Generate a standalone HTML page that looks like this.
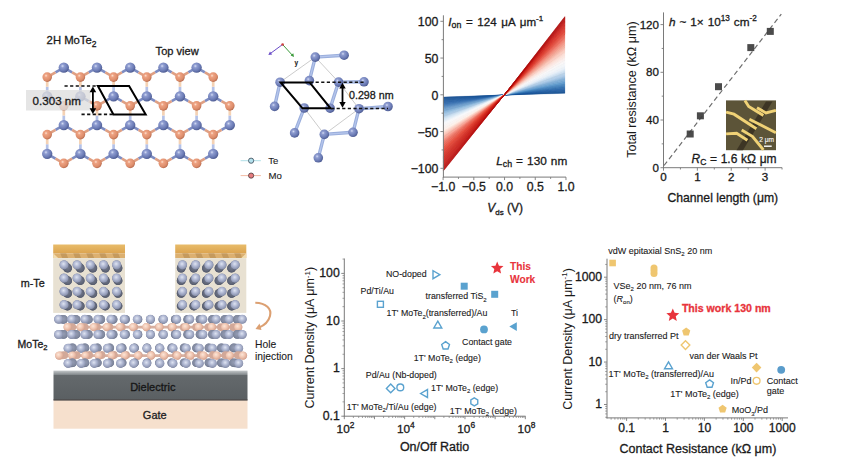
<!DOCTYPE html>
<html><head><meta charset="utf-8"><style>
html,body{margin:0;padding:0;background:#fff;width:848px;height:470px;overflow:hidden}
svg{display:block}
text{font-family:"Liberation Sans",sans-serif}
</style></head><body>
<svg width="848" height="470" viewBox="0 0 848 470">
<defs>
<radialGradient id="gB" cx="0.38" cy="0.35" r="0.66"><stop offset="0" stop-color="#d4dcf4"/><stop offset="0.25" stop-color="#8e9cd0"/><stop offset="0.72" stop-color="#6a7ab4"/><stop offset="1" stop-color="#4e5c92"/></radialGradient>
<radialGradient id="gO" cx="0.38" cy="0.35" r="0.66"><stop offset="0" stop-color="#fde2d0"/><stop offset="0.25" stop-color="#eea282"/><stop offset="0.75" stop-color="#dc8c6a"/><stop offset="1" stop-color="#b86c50"/></radialGradient>
<radialGradient id="gTe" cx="0.45" cy="0.4" r="0.62"><stop offset="0" stop-color="#dfe4f2"/><stop offset="0.5" stop-color="#adb5d0"/><stop offset="1" stop-color="#838ba6"/></radialGradient>
<radialGradient id="gTeD" cx="0.5" cy="0.45" r="0.6"><stop offset="0" stop-color="#767c90"/><stop offset="0.7" stop-color="#5e6476"/><stop offset="1" stop-color="#4a5062"/></radialGradient>
<radialGradient id="gTeB" cx="0.5" cy="0.45" r="0.6"><stop offset="0" stop-color="#949cb4"/><stop offset="0.7" stop-color="#80889e"/><stop offset="1" stop-color="#646c82"/></radialGradient>
<radialGradient id="gMo" cx="0.4" cy="0.38" r="0.65"><stop offset="0" stop-color="#fce6d8"/><stop offset="0.5" stop-color="#f0c6b2"/><stop offset="1" stop-color="#d4a08c"/></radialGradient>
<linearGradient id="gGold" x1="0" y1="0" x2="0" y2="1"><stop offset="0" stop-color="#e8bc6a"/><stop offset="1" stop-color="#dca450"/></linearGradient>
<linearGradient id="gGold2" x1="0" y1="0" x2="0" y2="1"><stop offset="0" stop-color="#d8b070"/><stop offset="1" stop-color="#f0dcb4"/></linearGradient>
<linearGradient id="gDiel" x1="0" y1="0" x2="0" y2="1"><stop offset="0" stop-color="#64696c"/><stop offset="1" stop-color="#5a5f62"/></linearGradient>
<linearGradient id="gDielTop" x1="0" y1="0" x2="0" y2="1"><stop offset="0" stop-color="#c4c8ca"/><stop offset="1" stop-color="#7e8487"/></linearGradient>
</defs>
<rect width="848" height="470" fill="#ffffff"/>
<g>
<line x1="63.80" y1="67.60" x2="55.50" y2="72.35" stroke="#7d8cc2" stroke-width="2.7"/>
<line x1="55.50" y1="72.35" x2="47.20" y2="77.10" stroke="#dfa084" stroke-width="2.7"/>
<line x1="63.80" y1="67.60" x2="72.10" y2="72.35" stroke="#7d8cc2" stroke-width="2.7"/>
<line x1="72.10" y1="72.35" x2="80.40" y2="77.10" stroke="#dfa084" stroke-width="2.7"/>
<line x1="97.00" y1="67.60" x2="88.70" y2="72.35" stroke="#7d8cc2" stroke-width="2.7"/>
<line x1="88.70" y1="72.35" x2="80.40" y2="77.10" stroke="#dfa084" stroke-width="2.7"/>
<line x1="97.00" y1="67.60" x2="105.30" y2="72.35" stroke="#7d8cc2" stroke-width="2.7"/>
<line x1="105.30" y1="72.35" x2="113.60" y2="77.10" stroke="#dfa084" stroke-width="2.7"/>
<line x1="130.20" y1="67.60" x2="121.90" y2="72.35" stroke="#7d8cc2" stroke-width="2.7"/>
<line x1="121.90" y1="72.35" x2="113.60" y2="77.10" stroke="#dfa084" stroke-width="2.7"/>
<line x1="130.20" y1="67.60" x2="138.50" y2="72.35" stroke="#7d8cc2" stroke-width="2.7"/>
<line x1="138.50" y1="72.35" x2="146.80" y2="77.10" stroke="#dfa084" stroke-width="2.7"/>
<line x1="163.40" y1="67.60" x2="155.10" y2="72.35" stroke="#7d8cc2" stroke-width="2.7"/>
<line x1="155.10" y1="72.35" x2="146.80" y2="77.10" stroke="#dfa084" stroke-width="2.7"/>
<line x1="163.40" y1="67.60" x2="171.70" y2="72.35" stroke="#7d8cc2" stroke-width="2.7"/>
<line x1="171.70" y1="72.35" x2="180.00" y2="77.10" stroke="#dfa084" stroke-width="2.7"/>
<line x1="196.60" y1="67.60" x2="188.30" y2="72.35" stroke="#7d8cc2" stroke-width="2.7"/>
<line x1="188.30" y1="72.35" x2="180.00" y2="77.10" stroke="#dfa084" stroke-width="2.7"/>
<line x1="196.60" y1="67.60" x2="204.90" y2="72.35" stroke="#7d8cc2" stroke-width="2.7"/>
<line x1="204.90" y1="72.35" x2="213.20" y2="77.10" stroke="#dfa084" stroke-width="2.7"/>
<line x1="47.20" y1="96.35" x2="47.20" y2="86.72" stroke="#b4c2e8" stroke-width="2.7"/>
<line x1="47.20" y1="86.72" x2="47.20" y2="77.10" stroke="#f4d2b4" stroke-width="2.7"/>
<line x1="80.40" y1="96.35" x2="80.40" y2="86.72" stroke="#b4c2e8" stroke-width="2.7"/>
<line x1="80.40" y1="86.72" x2="80.40" y2="77.10" stroke="#f4d2b4" stroke-width="2.7"/>
<line x1="113.60" y1="96.35" x2="113.60" y2="86.72" stroke="#b4c2e8" stroke-width="2.7"/>
<line x1="113.60" y1="86.72" x2="113.60" y2="77.10" stroke="#f4d2b4" stroke-width="2.7"/>
<line x1="146.80" y1="96.35" x2="146.80" y2="86.72" stroke="#b4c2e8" stroke-width="2.7"/>
<line x1="146.80" y1="86.72" x2="146.80" y2="77.10" stroke="#f4d2b4" stroke-width="2.7"/>
<line x1="180.00" y1="96.35" x2="180.00" y2="86.72" stroke="#b4c2e8" stroke-width="2.7"/>
<line x1="180.00" y1="86.72" x2="180.00" y2="77.10" stroke="#f4d2b4" stroke-width="2.7"/>
<line x1="213.20" y1="96.35" x2="213.20" y2="86.72" stroke="#b4c2e8" stroke-width="2.7"/>
<line x1="213.20" y1="86.72" x2="213.20" y2="77.10" stroke="#f4d2b4" stroke-width="2.7"/>
<line x1="47.20" y1="96.35" x2="55.50" y2="101.10" stroke="#7d8cc2" stroke-width="2.7"/>
<line x1="55.50" y1="101.10" x2="63.80" y2="105.85" stroke="#dfa084" stroke-width="2.7"/>
<line x1="80.40" y1="96.35" x2="72.10" y2="101.10" stroke="#7d8cc2" stroke-width="2.7"/>
<line x1="72.10" y1="101.10" x2="63.80" y2="105.85" stroke="#dfa084" stroke-width="2.7"/>
<line x1="80.40" y1="96.35" x2="88.70" y2="101.10" stroke="#7d8cc2" stroke-width="2.7"/>
<line x1="88.70" y1="101.10" x2="97.00" y2="105.85" stroke="#dfa084" stroke-width="2.7"/>
<line x1="113.60" y1="96.35" x2="105.30" y2="101.10" stroke="#7d8cc2" stroke-width="2.7"/>
<line x1="105.30" y1="101.10" x2="97.00" y2="105.85" stroke="#dfa084" stroke-width="2.7"/>
<line x1="113.60" y1="96.35" x2="121.90" y2="101.10" stroke="#7d8cc2" stroke-width="2.7"/>
<line x1="121.90" y1="101.10" x2="130.20" y2="105.85" stroke="#dfa084" stroke-width="2.7"/>
<line x1="146.80" y1="96.35" x2="138.50" y2="101.10" stroke="#7d8cc2" stroke-width="2.7"/>
<line x1="138.50" y1="101.10" x2="130.20" y2="105.85" stroke="#dfa084" stroke-width="2.7"/>
<line x1="146.80" y1="96.35" x2="155.10" y2="101.10" stroke="#7d8cc2" stroke-width="2.7"/>
<line x1="155.10" y1="101.10" x2="163.40" y2="105.85" stroke="#dfa084" stroke-width="2.7"/>
<line x1="180.00" y1="96.35" x2="171.70" y2="101.10" stroke="#7d8cc2" stroke-width="2.7"/>
<line x1="171.70" y1="101.10" x2="163.40" y2="105.85" stroke="#dfa084" stroke-width="2.7"/>
<line x1="180.00" y1="96.35" x2="188.30" y2="101.10" stroke="#7d8cc2" stroke-width="2.7"/>
<line x1="188.30" y1="101.10" x2="196.60" y2="105.85" stroke="#dfa084" stroke-width="2.7"/>
<line x1="213.20" y1="96.35" x2="204.90" y2="101.10" stroke="#7d8cc2" stroke-width="2.7"/>
<line x1="204.90" y1="101.10" x2="196.60" y2="105.85" stroke="#dfa084" stroke-width="2.7"/>
<line x1="213.20" y1="96.35" x2="221.50" y2="101.10" stroke="#7d8cc2" stroke-width="2.7"/>
<line x1="221.50" y1="101.10" x2="229.80" y2="105.85" stroke="#dfa084" stroke-width="2.7"/>
<line x1="63.80" y1="125.10" x2="63.80" y2="115.47" stroke="#b4c2e8" stroke-width="2.7"/>
<line x1="63.80" y1="115.47" x2="63.80" y2="105.85" stroke="#f4d2b4" stroke-width="2.7"/>
<line x1="97.00" y1="125.10" x2="97.00" y2="115.47" stroke="#b4c2e8" stroke-width="2.7"/>
<line x1="97.00" y1="115.47" x2="97.00" y2="105.85" stroke="#f4d2b4" stroke-width="2.7"/>
<line x1="130.20" y1="125.10" x2="130.20" y2="115.47" stroke="#b4c2e8" stroke-width="2.7"/>
<line x1="130.20" y1="115.47" x2="130.20" y2="105.85" stroke="#f4d2b4" stroke-width="2.7"/>
<line x1="163.40" y1="125.10" x2="163.40" y2="115.47" stroke="#b4c2e8" stroke-width="2.7"/>
<line x1="163.40" y1="115.47" x2="163.40" y2="105.85" stroke="#f4d2b4" stroke-width="2.7"/>
<line x1="196.60" y1="125.10" x2="196.60" y2="115.47" stroke="#b4c2e8" stroke-width="2.7"/>
<line x1="196.60" y1="115.47" x2="196.60" y2="105.85" stroke="#f4d2b4" stroke-width="2.7"/>
<line x1="229.80" y1="125.10" x2="229.80" y2="115.47" stroke="#b4c2e8" stroke-width="2.7"/>
<line x1="229.80" y1="115.47" x2="229.80" y2="105.85" stroke="#f4d2b4" stroke-width="2.7"/>
<line x1="63.80" y1="125.10" x2="55.50" y2="129.85" stroke="#7d8cc2" stroke-width="2.7"/>
<line x1="55.50" y1="129.85" x2="47.20" y2="134.60" stroke="#dfa084" stroke-width="2.7"/>
<line x1="63.80" y1="125.10" x2="72.10" y2="129.85" stroke="#7d8cc2" stroke-width="2.7"/>
<line x1="72.10" y1="129.85" x2="80.40" y2="134.60" stroke="#dfa084" stroke-width="2.7"/>
<line x1="97.00" y1="125.10" x2="88.70" y2="129.85" stroke="#7d8cc2" stroke-width="2.7"/>
<line x1="88.70" y1="129.85" x2="80.40" y2="134.60" stroke="#dfa084" stroke-width="2.7"/>
<line x1="97.00" y1="125.10" x2="105.30" y2="129.85" stroke="#7d8cc2" stroke-width="2.7"/>
<line x1="105.30" y1="129.85" x2="113.60" y2="134.60" stroke="#dfa084" stroke-width="2.7"/>
<line x1="130.20" y1="125.10" x2="121.90" y2="129.85" stroke="#7d8cc2" stroke-width="2.7"/>
<line x1="121.90" y1="129.85" x2="113.60" y2="134.60" stroke="#dfa084" stroke-width="2.7"/>
<line x1="130.20" y1="125.10" x2="138.50" y2="129.85" stroke="#7d8cc2" stroke-width="2.7"/>
<line x1="138.50" y1="129.85" x2="146.80" y2="134.60" stroke="#dfa084" stroke-width="2.7"/>
<line x1="163.40" y1="125.10" x2="155.10" y2="129.85" stroke="#7d8cc2" stroke-width="2.7"/>
<line x1="155.10" y1="129.85" x2="146.80" y2="134.60" stroke="#dfa084" stroke-width="2.7"/>
<line x1="163.40" y1="125.10" x2="171.70" y2="129.85" stroke="#7d8cc2" stroke-width="2.7"/>
<line x1="171.70" y1="129.85" x2="180.00" y2="134.60" stroke="#dfa084" stroke-width="2.7"/>
<line x1="196.60" y1="125.10" x2="188.30" y2="129.85" stroke="#7d8cc2" stroke-width="2.7"/>
<line x1="188.30" y1="129.85" x2="180.00" y2="134.60" stroke="#dfa084" stroke-width="2.7"/>
<line x1="196.60" y1="125.10" x2="204.90" y2="129.85" stroke="#7d8cc2" stroke-width="2.7"/>
<line x1="204.90" y1="129.85" x2="213.20" y2="134.60" stroke="#dfa084" stroke-width="2.7"/>
<line x1="229.80" y1="125.10" x2="221.50" y2="129.85" stroke="#7d8cc2" stroke-width="2.7"/>
<line x1="221.50" y1="129.85" x2="213.20" y2="134.60" stroke="#dfa084" stroke-width="2.7"/>
<line x1="47.20" y1="153.85" x2="47.20" y2="144.22" stroke="#b4c2e8" stroke-width="2.7"/>
<line x1="47.20" y1="144.22" x2="47.20" y2="134.60" stroke="#f4d2b4" stroke-width="2.7"/>
<line x1="80.40" y1="153.85" x2="80.40" y2="144.22" stroke="#b4c2e8" stroke-width="2.7"/>
<line x1="80.40" y1="144.22" x2="80.40" y2="134.60" stroke="#f4d2b4" stroke-width="2.7"/>
<line x1="113.60" y1="153.85" x2="113.60" y2="144.22" stroke="#b4c2e8" stroke-width="2.7"/>
<line x1="113.60" y1="144.22" x2="113.60" y2="134.60" stroke="#f4d2b4" stroke-width="2.7"/>
<line x1="146.80" y1="153.85" x2="146.80" y2="144.22" stroke="#b4c2e8" stroke-width="2.7"/>
<line x1="146.80" y1="144.22" x2="146.80" y2="134.60" stroke="#f4d2b4" stroke-width="2.7"/>
<line x1="180.00" y1="153.85" x2="180.00" y2="144.22" stroke="#b4c2e8" stroke-width="2.7"/>
<line x1="180.00" y1="144.22" x2="180.00" y2="134.60" stroke="#f4d2b4" stroke-width="2.7"/>
<line x1="213.20" y1="153.85" x2="213.20" y2="144.22" stroke="#b4c2e8" stroke-width="2.7"/>
<line x1="213.20" y1="144.22" x2="213.20" y2="134.60" stroke="#f4d2b4" stroke-width="2.7"/>
<line x1="47.20" y1="153.85" x2="55.50" y2="158.60" stroke="#7d8cc2" stroke-width="2.7"/>
<line x1="55.50" y1="158.60" x2="63.80" y2="163.35" stroke="#dfa084" stroke-width="2.7"/>
<line x1="80.40" y1="153.85" x2="72.10" y2="158.60" stroke="#7d8cc2" stroke-width="2.7"/>
<line x1="72.10" y1="158.60" x2="63.80" y2="163.35" stroke="#dfa084" stroke-width="2.7"/>
<line x1="80.40" y1="153.85" x2="88.70" y2="158.60" stroke="#7d8cc2" stroke-width="2.7"/>
<line x1="88.70" y1="158.60" x2="97.00" y2="163.35" stroke="#dfa084" stroke-width="2.7"/>
<line x1="113.60" y1="153.85" x2="105.30" y2="158.60" stroke="#7d8cc2" stroke-width="2.7"/>
<line x1="105.30" y1="158.60" x2="97.00" y2="163.35" stroke="#dfa084" stroke-width="2.7"/>
<line x1="113.60" y1="153.85" x2="121.90" y2="158.60" stroke="#7d8cc2" stroke-width="2.7"/>
<line x1="121.90" y1="158.60" x2="130.20" y2="163.35" stroke="#dfa084" stroke-width="2.7"/>
<line x1="146.80" y1="153.85" x2="138.50" y2="158.60" stroke="#7d8cc2" stroke-width="2.7"/>
<line x1="138.50" y1="158.60" x2="130.20" y2="163.35" stroke="#dfa084" stroke-width="2.7"/>
<line x1="146.80" y1="153.85" x2="155.10" y2="158.60" stroke="#7d8cc2" stroke-width="2.7"/>
<line x1="155.10" y1="158.60" x2="163.40" y2="163.35" stroke="#dfa084" stroke-width="2.7"/>
<line x1="180.00" y1="153.85" x2="171.70" y2="158.60" stroke="#7d8cc2" stroke-width="2.7"/>
<line x1="171.70" y1="158.60" x2="163.40" y2="163.35" stroke="#dfa084" stroke-width="2.7"/>
<line x1="180.00" y1="153.85" x2="188.30" y2="158.60" stroke="#7d8cc2" stroke-width="2.7"/>
<line x1="188.30" y1="158.60" x2="196.60" y2="163.35" stroke="#dfa084" stroke-width="2.7"/>
<line x1="213.20" y1="153.85" x2="204.90" y2="158.60" stroke="#7d8cc2" stroke-width="2.7"/>
<line x1="204.90" y1="158.60" x2="196.60" y2="163.35" stroke="#dfa084" stroke-width="2.7"/>
<circle cx="63.80" cy="67.60" r="5.2" fill="url(#gB)"/>
<circle cx="97.00" cy="67.60" r="5.2" fill="url(#gB)"/>
<circle cx="130.20" cy="67.60" r="5.2" fill="url(#gB)"/>
<circle cx="163.40" cy="67.60" r="5.2" fill="url(#gB)"/>
<circle cx="196.60" cy="67.60" r="5.2" fill="url(#gB)"/>
<circle cx="47.20" cy="77.10" r="4.8" fill="url(#gO)"/>
<circle cx="80.40" cy="77.10" r="4.8" fill="url(#gO)"/>
<circle cx="113.60" cy="77.10" r="4.8" fill="url(#gO)"/>
<circle cx="146.80" cy="77.10" r="4.8" fill="url(#gO)"/>
<circle cx="180.00" cy="77.10" r="4.8" fill="url(#gO)"/>
<circle cx="213.20" cy="77.10" r="4.8" fill="url(#gO)"/>
<circle cx="47.20" cy="96.35" r="5.2" fill="url(#gB)"/>
<circle cx="80.40" cy="96.35" r="5.2" fill="url(#gB)"/>
<circle cx="113.60" cy="96.35" r="5.2" fill="url(#gB)"/>
<circle cx="146.80" cy="96.35" r="5.2" fill="url(#gB)"/>
<circle cx="180.00" cy="96.35" r="5.2" fill="url(#gB)"/>
<circle cx="213.20" cy="96.35" r="5.2" fill="url(#gB)"/>
<circle cx="63.80" cy="105.85" r="4.8" fill="url(#gO)"/>
<circle cx="97.00" cy="105.85" r="4.8" fill="url(#gO)"/>
<circle cx="130.20" cy="105.85" r="4.8" fill="url(#gO)"/>
<circle cx="163.40" cy="105.85" r="4.8" fill="url(#gO)"/>
<circle cx="196.60" cy="105.85" r="4.8" fill="url(#gO)"/>
<circle cx="229.80" cy="105.85" r="4.8" fill="url(#gO)"/>
<circle cx="63.80" cy="125.10" r="5.2" fill="url(#gB)"/>
<circle cx="97.00" cy="125.10" r="5.2" fill="url(#gB)"/>
<circle cx="130.20" cy="125.10" r="5.2" fill="url(#gB)"/>
<circle cx="163.40" cy="125.10" r="5.2" fill="url(#gB)"/>
<circle cx="196.60" cy="125.10" r="5.2" fill="url(#gB)"/>
<circle cx="229.80" cy="125.10" r="5.2" fill="url(#gB)"/>
<circle cx="47.20" cy="134.60" r="4.8" fill="url(#gO)"/>
<circle cx="80.40" cy="134.60" r="4.8" fill="url(#gO)"/>
<circle cx="113.60" cy="134.60" r="4.8" fill="url(#gO)"/>
<circle cx="146.80" cy="134.60" r="4.8" fill="url(#gO)"/>
<circle cx="180.00" cy="134.60" r="4.8" fill="url(#gO)"/>
<circle cx="213.20" cy="134.60" r="4.8" fill="url(#gO)"/>
<circle cx="47.20" cy="153.85" r="5.2" fill="url(#gB)"/>
<circle cx="80.40" cy="153.85" r="5.2" fill="url(#gB)"/>
<circle cx="113.60" cy="153.85" r="5.2" fill="url(#gB)"/>
<circle cx="146.80" cy="153.85" r="5.2" fill="url(#gB)"/>
<circle cx="180.00" cy="153.85" r="5.2" fill="url(#gB)"/>
<circle cx="213.20" cy="153.85" r="5.2" fill="url(#gB)"/>
<circle cx="63.80" cy="163.35" r="4.8" fill="url(#gO)"/>
<circle cx="97.00" cy="163.35" r="4.8" fill="url(#gO)"/>
<circle cx="130.20" cy="163.35" r="4.8" fill="url(#gO)"/>
<circle cx="163.40" cy="163.35" r="4.8" fill="url(#gO)"/>
<circle cx="196.60" cy="163.35" r="4.8" fill="url(#gO)"/>
</g>
<rect x="26" y="90" width="64.5" height="20.5" fill="#dedede" fill-opacity="0.78"/>
<text x="32.6" y="104.5" font-size="11.6" text-anchor="start" fill="#1a1a1a" stroke="#1a1a1a" stroke-width="0.3" font-weight="normal" >0.303 nm</text>
<line x1="64.5" y1="86" x2="98" y2="86" stroke="#111" stroke-width="1.6" stroke-dasharray="3.2 2.4"/>
<line x1="81.5" y1="114.4" x2="113.5" y2="114.4" stroke="#111" stroke-width="1.6" stroke-dasharray="3.2 2.4"/>
<line x1="92.9" y1="90" x2="92.9" y2="110.5" stroke="#000" stroke-width="1.8"/>
<path d="M89.6,92.2 L92.9,86.4 L96.2,92.2 Z" fill="#000"/>
<path d="M89.6,108.2 L92.9,114 L96.2,108.2 Z" fill="#000"/>
<path d="M97.9,85.9 L129.1,85.9 L145.7,114.4 L113.4,114.4 Z" fill="none" stroke="#000" stroke-width="2" stroke-linejoin="miter"/>
<text x="46.6" y="43.8" font-size="11.3" text-anchor="start" fill="#1a1a1a" stroke="#1a1a1a" stroke-width="0.3" font-weight="normal" >2H MoTe<tspan font-size="8.5" dy="2.8">2</tspan></text>
<text x="155.6" y="55.0" font-size="11.1" text-anchor="start" fill="#1a1a1a" stroke="#1a1a1a" stroke-width="0.3" font-weight="normal" >Top view</text>
<line x1="315.3" y1="57.1" x2="280.1" y2="82.2" stroke="#a8a8a8" stroke-width="0.6"/>
<line x1="315.3" y1="57.1" x2="338.6" y2="82.1" stroke="#a8a8a8" stroke-width="0.6"/>
<line x1="338.6" y1="82.1" x2="359" y2="108.7" stroke="#a8a8a8" stroke-width="0.6"/>
<line x1="304.2" y1="108" x2="324.3" y2="134.4" stroke="#a8a8a8" stroke-width="0.6"/>
<line x1="324.3" y1="134.4" x2="359" y2="108.7" stroke="#a8a8a8" stroke-width="0.6"/>
<line x1="280.1" y1="82.2" x2="304.2" y2="108" stroke="#a8a8a8" stroke-width="0.6"/>
<line x1="309.4" y1="80.6" x2="330.1" y2="108.2" stroke="#a8a8a8" stroke-width="0.6"/>
<line x1="315.3" y1="57.1" x2="344.1" y2="55.2" stroke="#9aaedc" stroke-width="3.4" stroke-linecap="round"/>
<line x1="315.3" y1="57.1" x2="344.1" y2="55.2" stroke="#b6c6ec" stroke-width="1.2" stroke-linecap="round"/>
<line x1="315.3" y1="57.1" x2="309.4" y2="80.6" stroke="#9aaedc" stroke-width="3.4" stroke-linecap="round"/>
<line x1="315.3" y1="57.1" x2="309.4" y2="80.6" stroke="#b6c6ec" stroke-width="1.2" stroke-linecap="round"/>
<line x1="280.1" y1="82.2" x2="274.6" y2="106.4" stroke="#9aaedc" stroke-width="3.4" stroke-linecap="round"/>
<line x1="280.1" y1="82.2" x2="274.6" y2="106.4" stroke="#b6c6ec" stroke-width="1.2" stroke-linecap="round"/>
<line x1="338.6" y1="82.1" x2="330.1" y2="108.2" stroke="#9aaedc" stroke-width="3.4" stroke-linecap="round"/>
<line x1="338.6" y1="82.1" x2="330.1" y2="108.2" stroke="#b6c6ec" stroke-width="1.2" stroke-linecap="round"/>
<line x1="338.6" y1="82.1" x2="364" y2="81.8" stroke="#9aaedc" stroke-width="3.4" stroke-linecap="round"/>
<line x1="338.6" y1="82.1" x2="364" y2="81.8" stroke="#b6c6ec" stroke-width="1.2" stroke-linecap="round"/>
<line x1="304.2" y1="108" x2="294.6" y2="132.9" stroke="#9aaedc" stroke-width="3.4" stroke-linecap="round"/>
<line x1="304.2" y1="108" x2="294.6" y2="132.9" stroke="#b6c6ec" stroke-width="1.2" stroke-linecap="round"/>
<line x1="359" y1="108.7" x2="353" y2="132.3" stroke="#9aaedc" stroke-width="3.4" stroke-linecap="round"/>
<line x1="359" y1="108.7" x2="353" y2="132.3" stroke="#b6c6ec" stroke-width="1.2" stroke-linecap="round"/>
<line x1="359" y1="108.7" x2="388" y2="106.5" stroke="#9aaedc" stroke-width="3.4" stroke-linecap="round"/>
<line x1="359" y1="108.7" x2="388" y2="106.5" stroke="#b6c6ec" stroke-width="1.2" stroke-linecap="round"/>
<line x1="324.3" y1="134.4" x2="353" y2="132.3" stroke="#9aaedc" stroke-width="3.4" stroke-linecap="round"/>
<line x1="324.3" y1="134.4" x2="353" y2="132.3" stroke="#b6c6ec" stroke-width="1.2" stroke-linecap="round"/>
<line x1="324.3" y1="134.4" x2="318.3" y2="157.8" stroke="#9aaedc" stroke-width="3.4" stroke-linecap="round"/>
<line x1="324.3" y1="134.4" x2="318.3" y2="157.8" stroke="#b6c6ec" stroke-width="1.2" stroke-linecap="round"/>
<circle cx="315.3" cy="57.1" r="4.8" fill="url(#gB)"/>
<circle cx="344.1" cy="55.2" r="4.8" fill="url(#gB)"/>
<circle cx="280.1" cy="82.2" r="4.8" fill="url(#gB)"/>
<circle cx="309.4" cy="80.6" r="4.8" fill="url(#gB)"/>
<circle cx="338.6" cy="82.1" r="4.8" fill="url(#gB)"/>
<circle cx="364" cy="81.8" r="4.8" fill="url(#gB)"/>
<circle cx="274.6" cy="106.4" r="4.8" fill="url(#gB)"/>
<circle cx="304.2" cy="108" r="4.8" fill="url(#gB)"/>
<circle cx="330.1" cy="108.2" r="4.8" fill="url(#gB)"/>
<circle cx="359" cy="108.7" r="4.8" fill="url(#gB)"/>
<circle cx="388" cy="106.5" r="4.8" fill="url(#gB)"/>
<circle cx="294.6" cy="132.9" r="4.8" fill="url(#gB)"/>
<circle cx="324.3" cy="134.4" r="4.8" fill="url(#gB)"/>
<circle cx="353" cy="132.3" r="4.8" fill="url(#gB)"/>
<circle cx="318.3" cy="157.8" r="4.8" fill="url(#gB)"/>
<path d="M280.6,82.4 L309.6,82.4 L330.5,108.3 L302.5,108.3 Z" fill="none" stroke="#000" stroke-width="2"/>
<line x1="310" y1="82.2" x2="366" y2="82.2" stroke="#111" stroke-width="1.5" stroke-dasharray="3.2 2.4"/>
<line x1="331" y1="108.4" x2="388" y2="108.4" stroke="#111" stroke-width="1.5" stroke-dasharray="3.2 2.4"/>
<line x1="342.5" y1="86" x2="342.5" y2="104.5" stroke="#000" stroke-width="1.8"/>
<path d="M339.3,88.6 L342.5,82.8 L345.7,88.6 Z" fill="#000"/>
<path d="M339.3,102 L342.5,107.8 L345.7,102 Z" fill="#000"/>
<text x="349.0" y="99.4" font-size="10.7" text-anchor="start" fill="#1a1a1a" stroke="#1a1a1a" stroke-width="0.3" font-weight="normal" >0.298 nm</text>
<line x1="282.6" y1="44.5" x2="270.5" y2="53.4" stroke="#6a4cc8" stroke-width="1"/>
<path d="M268.3,54.9 L270.0,51.6 L272.2,54.4 Z" fill="#6a4cc8"/>
<line x1="282.6" y1="44.5" x2="292.3" y2="55.2" stroke="#3a9a3a" stroke-width="1"/>
<path d="M294,57.1 L290.6,55.6 L293.3,53.3 Z" fill="#3a9a3a"/>
<circle cx="282.6" cy="44.5" r="1.3" fill="#d04040"/>
<text x="294.6" y="65.0" font-size="6.5" text-anchor="start" fill="#222" stroke="#222" stroke-width="0.1" font-weight="bold" >y</text>
<line x1="240.6" y1="160.7" x2="260.9" y2="160.7" stroke="#a8dce4" stroke-width="0.9"/>
<circle cx="251.1" cy="160.7" r="2.6" fill="#b4e2ee" stroke="#3a4654" stroke-width="0.8"/>
<line x1="240.6" y1="175.6" x2="260.9" y2="175.6" stroke="#f0b49a" stroke-width="0.9"/>
<circle cx="251.1" cy="175.6" r="2.6" fill="#e67c80" stroke="#4a3a3a" stroke-width="0.8"/>
<text x="268.3" y="163.9" font-size="9.6" text-anchor="start" fill="#1a1a1a" stroke="#1a1a1a" stroke-width="0.1" font-weight="normal" >Te</text>
<text x="268.6" y="178.8" font-size="9.6" text-anchor="start" fill="#1a1a1a" stroke="#1a1a1a" stroke-width="0.1" font-weight="normal" >Mo</text>
<g>
<path d="M504.15,95.0 L564.9,93.30 L564.9,92.71 Z" fill="#0b478c" stroke="#0b478c" stroke-width="0.25"/>
<path d="M504.15,95.0 L443.4,97.00 L443.4,97.57 Z" fill="#0b468c" stroke="#0b468c" stroke-width="0.25"/>
<path d="M504.15,95.0 L564.9,92.71 L564.9,92.12 Z" fill="#0e498e" stroke="#0e498e" stroke-width="0.25"/>
<path d="M504.15,95.0 L443.4,97.57 L443.4,98.14 Z" fill="#0d488d" stroke="#0d488d" stroke-width="0.25"/>
<path d="M504.15,95.0 L564.9,92.12 L564.9,91.53 Z" fill="#135095" stroke="#135095" stroke-width="0.25"/>
<path d="M504.15,95.0 L443.4,98.14 L443.4,98.71 Z" fill="#124e93" stroke="#124e93" stroke-width="0.25"/>
<path d="M504.15,95.0 L564.9,91.53 L564.9,90.93 Z" fill="#134f94" stroke="#134f94" stroke-width="0.25"/>
<path d="M504.15,95.0 L443.4,98.71 L443.4,99.28 Z" fill="#124d91" stroke="#124d91" stroke-width="0.25"/>
<path d="M504.15,95.0 L564.9,90.93 L564.9,90.34 Z" fill="#17559b" stroke="#17559b" stroke-width="0.25"/>
<path d="M504.15,95.0 L443.4,99.28 L443.4,99.85 Z" fill="#165197" stroke="#165197" stroke-width="0.25"/>
<path d="M504.15,95.0 L564.9,90.34 L564.9,89.75 Z" fill="#1a579d" stroke="#1a579d" stroke-width="0.25"/>
<path d="M504.15,95.0 L443.4,99.85 L443.4,100.42 Z" fill="#175398" stroke="#175398" stroke-width="0.25"/>
<path d="M504.15,95.0 L564.9,89.75 L564.9,89.16 Z" fill="#1c599d" stroke="#1c599d" stroke-width="0.25"/>
<path d="M504.15,95.0 L443.4,100.42 L443.4,100.98 Z" fill="#195498" stroke="#195498" stroke-width="0.25"/>
<path d="M504.15,95.0 L564.9,89.16 L564.9,88.57 Z" fill="#205fa5" stroke="#205fa5" stroke-width="0.25"/>
<path d="M504.15,95.0 L443.4,100.98 L443.4,101.55 Z" fill="#1d599f" stroke="#1d599f" stroke-width="0.25"/>
<path d="M504.15,95.0 L564.9,88.57 L564.9,87.98 Z" fill="#215fa3" stroke="#215fa3" stroke-width="0.25"/>
<path d="M504.15,95.0 L443.4,101.55 L443.4,102.12 Z" fill="#1e589c" stroke="#1e589c" stroke-width="0.25"/>
<path d="M504.15,95.0 L564.9,87.98 L564.9,87.38 Z" fill="#2666ab" stroke="#2666ab" stroke-width="0.25"/>
<path d="M504.15,95.0 L443.4,102.12 L443.4,102.69 Z" fill="#215da3" stroke="#215da3" stroke-width="0.25"/>
<path d="M504.15,95.0 L564.9,87.38 L564.9,86.79 Z" fill="#2a68aa" stroke="#2a68aa" stroke-width="0.25"/>
<path d="M504.15,95.0 L443.4,102.69 L443.4,103.26 Z" fill="#235da2" stroke="#235da2" stroke-width="0.25"/>
<path d="M504.15,95.0 L564.9,86.79 L564.9,86.20 Z" fill="#2e6dae" stroke="#2e6dae" stroke-width="0.25"/>
<path d="M504.15,95.0 L443.4,103.26 L443.4,103.83 Z" fill="#2560a4" stroke="#2560a4" stroke-width="0.25"/>
<path d="M504.15,95.0 L564.9,86.20 L564.9,85.61 Z" fill="#3474b4" stroke="#3474b4" stroke-width="0.25"/>
<path d="M504.15,95.0 L443.4,103.83 L443.4,104.40 Z" fill="#2964aa" stroke="#2964aa" stroke-width="0.25"/>
<path d="M504.15,95.0 L564.9,85.61 L564.9,85.02 Z" fill="#3d7cba" stroke="#3d7cba" stroke-width="0.25"/>
<path d="M504.15,95.0 L443.4,104.40 L443.4,104.97 Z" fill="#316caf" stroke="#316caf" stroke-width="0.25"/>
<path d="M504.15,95.0 L564.9,85.02 L564.9,84.43 Z" fill="#3d7bb8" stroke="#3d7bb8" stroke-width="0.25"/>
<path d="M504.15,95.0 L443.4,104.97 L443.4,105.54 Z" fill="#326bad" stroke="#326bad" stroke-width="0.25"/>
<path d="M504.15,95.0 L564.9,84.43 L564.9,83.84 Z" fill="#4281bc" stroke="#4281bc" stroke-width="0.25"/>
<path d="M504.15,95.0 L443.4,105.54 L443.4,106.11 Z" fill="#3871b1" stroke="#3871b1" stroke-width="0.25"/>
<path d="M504.15,95.0 L564.9,83.84 L564.9,83.24 Z" fill="#4989c3" stroke="#4989c3" stroke-width="0.25"/>
<path d="M504.15,95.0 L443.4,106.11 L443.4,106.68 Z" fill="#4179b7" stroke="#4179b7" stroke-width="0.25"/>
<path d="M504.15,95.0 L564.9,83.24 L564.9,82.65 Z" fill="#5190c7" stroke="#5190c7" stroke-width="0.25"/>
<path d="M504.15,95.0 L443.4,106.68 L443.4,107.25 Z" fill="#4a81bc" stroke="#4a81bc" stroke-width="0.25"/>
<path d="M504.15,95.0 L564.9,82.65 L564.9,82.06 Z" fill="#5392c9" stroke="#5392c9" stroke-width="0.25"/>
<path d="M504.15,95.0 L443.4,107.25 L443.4,107.82 Z" fill="#4c83bd" stroke="#4c83bd" stroke-width="0.25"/>
<path d="M504.15,95.0 L564.9,82.06 L564.9,81.47 Z" fill="#5b97cc" stroke="#5b97cc" stroke-width="0.25"/>
<path d="M504.15,95.0 L443.4,107.82 L443.4,108.38 Z" fill="#5489c1" stroke="#5489c1" stroke-width="0.25"/>
<path d="M504.15,95.0 L564.9,81.47 L564.9,80.88 Z" fill="#6fa4d2" stroke="#6fa4d2" stroke-width="0.25"/>
<path d="M504.15,95.0 L443.4,108.38 L443.4,108.95 Z" fill="#6798c9" stroke="#6798c9" stroke-width="0.25"/>
<path d="M504.15,95.0 L564.9,80.88 L564.9,80.29 Z" fill="#6399c9" stroke="#6399c9" stroke-width="0.25"/>
<path d="M504.15,95.0 L443.4,108.95 L443.4,109.52 Z" fill="#5a8dc0" stroke="#5a8dc0" stroke-width="0.25"/>
<path d="M504.15,95.0 L564.9,80.29 L564.9,79.69 Z" fill="#79aad6" stroke="#79aad6" stroke-width="0.25"/>
<path d="M504.15,95.0 L443.4,109.52 L443.4,110.09 Z" fill="#709fce" stroke="#709fce" stroke-width="0.25"/>
<path d="M504.15,95.0 L564.9,79.69 L564.9,79.10 Z" fill="#74a7d4" stroke="#74a7d4" stroke-width="0.25"/>
<path d="M504.15,95.0 L443.4,110.09 L443.4,110.66 Z" fill="#699ccc" stroke="#699ccc" stroke-width="0.25"/>
<path d="M504.15,95.0 L564.9,79.10 L564.9,78.51 Z" fill="#78a8d2" stroke="#78a8d2" stroke-width="0.25"/>
<path d="M504.15,95.0 L443.4,110.66 L443.4,111.23 Z" fill="#6d9ecb" stroke="#6d9ecb" stroke-width="0.25"/>
<path d="M504.15,95.0 L564.9,78.51 L564.9,77.92 Z" fill="#7eabd4" stroke="#7eabd4" stroke-width="0.25"/>
<path d="M504.15,95.0 L443.4,111.23 L443.4,111.80 Z" fill="#72a3ce" stroke="#72a3ce" stroke-width="0.25"/>
<path d="M504.15,95.0 L564.9,77.92 L564.9,77.33 Z" fill="#89b4db" stroke="#89b4db" stroke-width="0.25"/>
<path d="M504.15,95.0 L443.4,111.80 L443.4,112.37 Z" fill="#7cacd6" stroke="#7cacd6" stroke-width="0.25"/>
<path d="M504.15,95.0 L564.9,77.33 L564.9,76.74 Z" fill="#97bde0" stroke="#97bde0" stroke-width="0.25"/>
<path d="M504.15,95.0 L443.4,112.37 L443.4,112.94 Z" fill="#8bb7db" stroke="#8bb7db" stroke-width="0.25"/>
<path d="M504.15,95.0 L564.9,76.74 L564.9,76.15 Z" fill="#94badc" stroke="#94badc" stroke-width="0.25"/>
<path d="M504.15,95.0 L443.4,112.94 L443.4,113.51 Z" fill="#86b2d7" stroke="#86b2d7" stroke-width="0.25"/>
<path d="M504.15,95.0 L564.9,76.15 L564.9,75.55 Z" fill="#a1c3e3" stroke="#a1c3e3" stroke-width="0.25"/>
<path d="M504.15,95.0 L443.4,113.51 L443.4,114.08 Z" fill="#94bcde" stroke="#94bcde" stroke-width="0.25"/>
<path d="M504.15,95.0 L564.9,75.55 L564.9,74.96 Z" fill="#a8c8e6" stroke="#a8c8e6" stroke-width="0.25"/>
<path d="M504.15,95.0 L443.4,114.08 L443.4,114.65 Z" fill="#9bc1e1" stroke="#9bc1e1" stroke-width="0.25"/>
<path d="M504.15,95.0 L564.9,74.96 L564.9,74.37 Z" fill="#abcae7" stroke="#abcae7" stroke-width="0.25"/>
<path d="M504.15,95.0 L443.4,114.65 L443.4,115.22 Z" fill="#9ec3e2" stroke="#9ec3e2" stroke-width="0.25"/>
<path d="M504.15,95.0 L564.9,74.37 L564.9,73.78 Z" fill="#b2cee9" stroke="#b2cee9" stroke-width="0.25"/>
<path d="M504.15,95.0 L443.4,115.22 L443.4,115.78 Z" fill="#a7c8e5" stroke="#a7c8e5" stroke-width="0.25"/>
<path d="M504.15,95.0 L564.9,73.78 L564.9,73.19 Z" fill="#afc9e2" stroke="#afc9e2" stroke-width="0.25"/>
<path d="M504.15,95.0 L443.4,115.78 L443.4,116.35 Z" fill="#a5c4df" stroke="#a5c4df" stroke-width="0.25"/>
<path d="M504.15,95.0 L564.9,73.19 L564.9,72.60 Z" fill="#b4cde4" stroke="#b4cde4" stroke-width="0.25"/>
<path d="M504.15,95.0 L443.4,116.35 L443.4,116.92 Z" fill="#acc8e1" stroke="#acc8e1" stroke-width="0.25"/>
<path d="M504.15,95.0 L564.9,72.60 L564.9,72.00 Z" fill="#bdd4ea" stroke="#bdd4ea" stroke-width="0.25"/>
<path d="M504.15,95.0 L443.4,116.92 L443.4,117.49 Z" fill="#b6d1e8" stroke="#b6d1e8" stroke-width="0.25"/>
<path d="M504.15,95.0 L564.9,72.00 L564.9,71.41 Z" fill="#c8dcef" stroke="#c8dcef" stroke-width="0.25"/>
<path d="M504.15,95.0 L443.4,117.49 L443.4,118.06 Z" fill="#c2daed" stroke="#c2daed" stroke-width="0.25"/>
<path d="M504.15,95.0 L564.9,71.41 L564.9,70.82 Z" fill="#ccdef0" stroke="#ccdef0" stroke-width="0.25"/>
<path d="M504.15,95.0 L443.4,118.06 L443.4,118.63 Z" fill="#c7dcef" stroke="#c7dcef" stroke-width="0.25"/>
<path d="M504.15,95.0 L564.9,70.82 L564.9,70.23 Z" fill="#d0e1f1" stroke="#d0e1f1" stroke-width="0.25"/>
<path d="M504.15,95.0 L443.4,118.63 L443.4,119.20 Z" fill="#cde0f1" stroke="#cde0f1" stroke-width="0.25"/>
<path d="M504.15,95.0 L564.9,70.23 L564.9,69.64 Z" fill="#d7e5f3" stroke="#d7e5f3" stroke-width="0.25"/>
<path d="M504.15,95.0 L443.4,119.20 L443.4,119.77 Z" fill="#d4e5f3" stroke="#d4e5f3" stroke-width="0.25"/>
<path d="M504.15,95.0 L564.9,69.64 L564.9,69.05 Z" fill="#dce8f5" stroke="#dce8f5" stroke-width="0.25"/>
<path d="M504.15,95.0 L443.4,119.77 L443.4,120.34 Z" fill="#d8e7f4" stroke="#d8e7f4" stroke-width="0.25"/>
<path d="M504.15,95.0 L564.9,69.05 L564.9,68.46 Z" fill="#e0ebf6" stroke="#e0ebf6" stroke-width="0.25"/>
<path d="M504.15,95.0 L443.4,120.34 L443.4,120.91 Z" fill="#dce9f5" stroke="#dce9f5" stroke-width="0.25"/>
<path d="M504.15,95.0 L564.9,68.46 L564.9,67.86 Z" fill="#e8f0f8" stroke="#e8f0f8" stroke-width="0.25"/>
<path d="M504.15,95.0 L443.4,120.91 L443.4,121.48 Z" fill="#e3edf6" stroke="#e3edf6" stroke-width="0.25"/>
<path d="M504.15,95.0 L564.9,67.86 L564.9,67.27 Z" fill="#eaf1f8" stroke="#eaf1f8" stroke-width="0.25"/>
<path d="M504.15,95.0 L443.4,121.48 L443.4,122.05 Z" fill="#e7f0f7" stroke="#e7f0f7" stroke-width="0.25"/>
<path d="M504.15,95.0 L564.9,67.27 L564.9,66.68 Z" fill="#e9f0f7" stroke="#e9f0f7" stroke-width="0.25"/>
<path d="M504.15,95.0 L443.4,122.05 L443.4,122.62 Z" fill="#e9f0f6" stroke="#e9f0f6" stroke-width="0.25"/>
<path d="M504.15,95.0 L564.9,66.68 L564.9,66.09 Z" fill="#edf2f8" stroke="#edf2f8" stroke-width="0.25"/>
<path d="M504.15,95.0 L443.4,122.62 L443.4,123.18 Z" fill="#f0f5f9" stroke="#f0f5f9" stroke-width="0.25"/>
<path d="M504.15,95.0 L564.9,66.09 L564.9,65.50 Z" fill="#eef3f8" stroke="#eef3f8" stroke-width="0.25"/>
<path d="M504.15,95.0 L443.4,123.18 L443.4,123.75 Z" fill="#f5f7fa" stroke="#f5f7fa" stroke-width="0.25"/>
<path d="M504.15,95.0 L564.9,65.50 L564.9,64.91 Z" fill="#f1f4f9" stroke="#f1f4f9" stroke-width="0.25"/>
<path d="M504.15,95.0 L443.4,123.75 L443.4,124.32 Z" fill="#f7f8fa" stroke="#f7f8fa" stroke-width="0.25"/>
<path d="M504.15,95.0 L564.9,64.91 L564.9,64.31 Z" fill="#f2f5f8" stroke="#f2f5f8" stroke-width="0.25"/>
<path d="M504.15,95.0 L443.4,124.32 L443.4,124.89 Z" fill="#f8f7f8" stroke="#f8f7f8" stroke-width="0.25"/>
<path d="M504.15,95.0 L564.9,64.31 L564.9,63.72 Z" fill="#f3f5f8" stroke="#f3f5f8" stroke-width="0.25"/>
<path d="M504.15,95.0 L443.4,124.89 L443.4,125.46 Z" fill="#f8f6f6" stroke="#f8f6f6" stroke-width="0.25"/>
<path d="M504.15,95.0 L564.9,63.72 L564.9,63.13 Z" fill="#f5f6f9" stroke="#f5f6f9" stroke-width="0.25"/>
<path d="M504.15,95.0 L443.4,125.46 L443.4,126.03 Z" fill="#f9f6f6" stroke="#f9f6f6" stroke-width="0.25"/>
<path d="M504.15,95.0 L564.9,63.13 L564.9,62.54 Z" fill="#f0f0f2" stroke="#f0f0f2" stroke-width="0.25"/>
<path d="M504.15,95.0 L443.4,126.03 L443.4,126.60 Z" fill="#f3efee" stroke="#f3efee" stroke-width="0.25"/>
<path d="M504.15,95.0 L564.9,62.54 L564.9,61.95 Z" fill="#f8f7f8" stroke="#f8f7f8" stroke-width="0.25"/>
<path d="M504.15,95.0 L443.4,126.60 L443.4,127.17 Z" fill="#faf4f2" stroke="#faf4f2" stroke-width="0.25"/>
<path d="M504.15,95.0 L564.9,61.95 L564.9,61.36 Z" fill="#faf8f8" stroke="#faf8f8" stroke-width="0.25"/>
<path d="M504.15,95.0 L443.4,127.17 L443.4,127.74 Z" fill="#faf4f2" stroke="#faf4f2" stroke-width="0.25"/>
<path d="M504.15,95.0 L564.9,61.36 L564.9,60.77 Z" fill="#f6f3f3" stroke="#f6f3f3" stroke-width="0.25"/>
<path d="M504.15,95.0 L443.4,127.74 L443.4,128.31 Z" fill="#f6eeeb" stroke="#f6eeeb" stroke-width="0.25"/>
<path d="M504.15,95.0 L564.9,60.77 L564.9,60.17 Z" fill="#fbf6f6" stroke="#fbf6f6" stroke-width="0.25"/>
<path d="M504.15,95.0 L443.4,128.31 L443.4,128.88 Z" fill="#fbf2ef" stroke="#fbf2ef" stroke-width="0.25"/>
<path d="M504.15,95.0 L564.9,60.17 L564.9,59.58 Z" fill="#f2ebea" stroke="#f2ebea" stroke-width="0.25"/>
<path d="M504.15,95.0 L443.4,128.88 L443.4,129.45 Z" fill="#f3e9e5" stroke="#f3e9e5" stroke-width="0.25"/>
<path d="M504.15,95.0 L564.9,59.58 L564.9,58.99 Z" fill="#fbf2f0" stroke="#fbf2f0" stroke-width="0.25"/>
<path d="M504.15,95.0 L443.4,129.45 L443.4,130.02 Z" fill="#fdf1ec" stroke="#fdf1ec" stroke-width="0.25"/>
<path d="M504.15,95.0 L564.9,58.99 L564.9,58.40 Z" fill="#fbf0ed" stroke="#fbf0ed" stroke-width="0.25"/>
<path d="M504.15,95.0 L443.4,130.02 L443.4,130.58 Z" fill="#fdf1eb" stroke="#fdf1eb" stroke-width="0.25"/>
<path d="M504.15,95.0 L564.9,58.40 L564.9,57.81 Z" fill="#fbedea" stroke="#fbedea" stroke-width="0.25"/>
<path d="M504.15,95.0 L443.4,130.58 L443.4,131.15 Z" fill="#fdebe4" stroke="#fdebe4" stroke-width="0.25"/>
<path d="M504.15,95.0 L564.9,57.81 L564.9,57.22 Z" fill="#fbece8" stroke="#fbece8" stroke-width="0.25"/>
<path d="M504.15,95.0 L443.4,131.15 L443.4,131.72 Z" fill="#fce6de" stroke="#fce6de" stroke-width="0.25"/>
<path d="M504.15,95.0 L564.9,57.22 L564.9,56.62 Z" fill="#fbe8e3" stroke="#fbe8e3" stroke-width="0.25"/>
<path d="M504.15,95.0 L443.4,131.72 L443.4,132.29 Z" fill="#fbded4" stroke="#fbded4" stroke-width="0.25"/>
<path d="M504.15,95.0 L564.9,56.62 L564.9,56.03 Z" fill="#fbe7e1" stroke="#fbe7e1" stroke-width="0.25"/>
<path d="M504.15,95.0 L443.4,132.29 L443.4,132.86 Z" fill="#fbdad0" stroke="#fbdad0" stroke-width="0.25"/>
<path d="M504.15,95.0 L564.9,56.03 L564.9,55.44 Z" fill="#fbe5de" stroke="#fbe5de" stroke-width="0.25"/>
<path d="M504.15,95.0 L443.4,132.86 L443.4,133.43 Z" fill="#fad3c8" stroke="#fad3c8" stroke-width="0.25"/>
<path d="M504.15,95.0 L564.9,55.44 L564.9,54.85 Z" fill="#fbe2db" stroke="#fbe2db" stroke-width="0.25"/>
<path d="M504.15,95.0 L443.4,133.43 L443.4,134.00 Z" fill="#facdc1" stroke="#facdc1" stroke-width="0.25"/>
<path d="M504.15,95.0 L564.9,54.85 L564.9,54.26 Z" fill="#fbdfd7" stroke="#fbdfd7" stroke-width="0.25"/>
<path d="M504.15,95.0 L443.4,134.00 L443.4,134.57 Z" fill="#f9c6b9" stroke="#f9c6b9" stroke-width="0.25"/>
<path d="M504.15,95.0 L564.9,54.26 L564.9,53.67 Z" fill="#fbded5" stroke="#fbded5" stroke-width="0.25"/>
<path d="M504.15,95.0 L443.4,134.57 L443.4,135.14 Z" fill="#f9c4b6" stroke="#f9c4b6" stroke-width="0.25"/>
<path d="M504.15,95.0 L564.9,53.67 L564.9,53.08 Z" fill="#fbdbd2" stroke="#fbdbd2" stroke-width="0.25"/>
<path d="M504.15,95.0 L443.4,135.14 L443.4,135.71 Z" fill="#f9bfb1" stroke="#f9bfb1" stroke-width="0.25"/>
<path d="M504.15,95.0 L564.9,53.08 L564.9,52.48 Z" fill="#fad5cb" stroke="#fad5cb" stroke-width="0.25"/>
<path d="M504.15,95.0 L443.4,135.71 L443.4,136.28 Z" fill="#f8b4a5" stroke="#f8b4a5" stroke-width="0.25"/>
<path d="M504.15,95.0 L564.9,52.48 L564.9,51.89 Z" fill="#fad3c9" stroke="#fad3c9" stroke-width="0.25"/>
<path d="M504.15,95.0 L443.4,136.28 L443.4,136.85 Z" fill="#f7b1a2" stroke="#f7b1a2" stroke-width="0.25"/>
<path d="M504.15,95.0 L564.9,51.89 L564.9,51.30 Z" fill="#f1c7bb" stroke="#f1c7bb" stroke-width="0.25"/>
<path d="M504.15,95.0 L443.4,136.85 L443.4,137.42 Z" fill="#eea191" stroke="#eea191" stroke-width="0.25"/>
<path d="M504.15,95.0 L564.9,51.30 L564.9,50.71 Z" fill="#f9cdc1" stroke="#f9cdc1" stroke-width="0.25"/>
<path d="M504.15,95.0 L443.4,137.42 L443.4,137.98 Z" fill="#f6a696" stroke="#f6a696" stroke-width="0.25"/>
<path d="M504.15,95.0 L564.9,50.71 L564.9,50.12 Z" fill="#f9c9bd" stroke="#f9c9bd" stroke-width="0.25"/>
<path d="M504.15,95.0 L443.4,137.98 L443.4,138.55 Z" fill="#f59f90" stroke="#f59f90" stroke-width="0.25"/>
<path d="M504.15,95.0 L564.9,50.12 L564.9,49.53 Z" fill="#f9c9bc" stroke="#f9c9bc" stroke-width="0.25"/>
<path d="M504.15,95.0 L443.4,138.55 L443.4,139.12 Z" fill="#f59e90" stroke="#f59e90" stroke-width="0.25"/>
<path d="M504.15,95.0 L564.9,49.53 L564.9,48.93 Z" fill="#f8c4b7" stroke="#f8c4b7" stroke-width="0.25"/>
<path d="M504.15,95.0 L443.4,139.12 L443.4,139.69 Z" fill="#f49687" stroke="#f49687" stroke-width="0.25"/>
<path d="M504.15,95.0 L564.9,48.93 L564.9,48.34 Z" fill="#f8bcad" stroke="#f8bcad" stroke-width="0.25"/>
<path d="M504.15,95.0 L443.4,139.69 L443.4,140.26 Z" fill="#f28777" stroke="#f28777" stroke-width="0.25"/>
<path d="M504.15,95.0 L564.9,48.34 L564.9,47.75 Z" fill="#f7b9aa" stroke="#f7b9aa" stroke-width="0.25"/>
<path d="M504.15,95.0 L443.4,140.26 L443.4,140.83 Z" fill="#f18373" stroke="#f18373" stroke-width="0.25"/>
<path d="M504.15,95.0 L564.9,47.75 L564.9,47.16 Z" fill="#f7b9aa" stroke="#f7b9aa" stroke-width="0.25"/>
<path d="M504.15,95.0 L443.4,140.83 L443.4,141.40 Z" fill="#f18273" stroke="#f18273" stroke-width="0.25"/>
<path d="M504.15,95.0 L564.9,47.16 L564.9,46.57 Z" fill="#eeab9b" stroke="#eeab9b" stroke-width="0.25"/>
<path d="M504.15,95.0 L443.4,141.40 L443.4,141.97 Z" fill="#e77262" stroke="#e77262" stroke-width="0.25"/>
<path d="M504.15,95.0 L564.9,46.57 L564.9,45.98 Z" fill="#f7b09f" stroke="#f7b09f" stroke-width="0.25"/>
<path d="M504.15,95.0 L443.4,141.97 L443.4,142.54 Z" fill="#ef7565" stroke="#ef7565" stroke-width="0.25"/>
<path d="M504.15,95.0 L564.9,45.98 L564.9,45.39 Z" fill="#f2a896" stroke="#f2a896" stroke-width="0.25"/>
<path d="M504.15,95.0 L443.4,142.54 L443.4,143.11 Z" fill="#ea6b5b" stroke="#ea6b5b" stroke-width="0.25"/>
<path d="M504.15,95.0 L564.9,45.39 L564.9,44.79 Z" fill="#f0a290" stroke="#f0a290" stroke-width="0.25"/>
<path d="M504.15,95.0 L443.4,143.11 L443.4,143.68 Z" fill="#e76656" stroke="#e76656" stroke-width="0.25"/>
<path d="M504.15,95.0 L564.9,44.79 L564.9,44.20 Z" fill="#ed9c8a" stroke="#ed9c8a" stroke-width="0.25"/>
<path d="M504.15,95.0 L443.4,143.68 L443.4,144.25 Z" fill="#e46151" stroke="#e46151" stroke-width="0.25"/>
<path d="M504.15,95.0 L564.9,44.20 L564.9,43.61 Z" fill="#f5a292" stroke="#f5a292" stroke-width="0.25"/>
<path d="M504.15,95.0 L443.4,144.25 L443.4,144.82 Z" fill="#ec6b5b" stroke="#ec6b5b" stroke-width="0.25"/>
<path d="M504.15,95.0 L564.9,43.61 L564.9,43.02 Z" fill="#ee9382" stroke="#ee9382" stroke-width="0.25"/>
<path d="M504.15,95.0 L443.4,144.82 L443.4,145.38 Z" fill="#e55a49" stroke="#e55a49" stroke-width="0.25"/>
<path d="M504.15,95.0 L564.9,43.02 L564.9,42.43 Z" fill="#f1917f" stroke="#f1917f" stroke-width="0.25"/>
<path d="M504.15,95.0 L443.4,145.38 L443.4,145.95 Z" fill="#e85746" stroke="#e85746" stroke-width="0.25"/>
<path d="M504.15,95.0 L564.9,42.43 L564.9,41.84 Z" fill="#f28f7d" stroke="#f28f7d" stroke-width="0.25"/>
<path d="M504.15,95.0 L443.4,145.95 L443.4,146.52 Z" fill="#e85645" stroke="#e85645" stroke-width="0.25"/>
<path d="M504.15,95.0 L564.9,41.84 L564.9,41.24 Z" fill="#f29281" stroke="#f29281" stroke-width="0.25"/>
<path d="M504.15,95.0 L443.4,146.52 L443.4,147.09 Z" fill="#e95e4d" stroke="#e95e4d" stroke-width="0.25"/>
<path d="M504.15,95.0 L564.9,41.24 L564.9,40.65 Z" fill="#e97f6e" stroke="#e97f6e" stroke-width="0.25"/>
<path d="M504.15,95.0 L443.4,147.09 L443.4,147.66 Z" fill="#e04938" stroke="#e04938" stroke-width="0.25"/>
<path d="M504.15,95.0 L564.9,40.65 L564.9,40.06 Z" fill="#f08170" stroke="#f08170" stroke-width="0.25"/>
<path d="M504.15,95.0 L443.4,147.66 L443.4,148.23 Z" fill="#e64b39" stroke="#e64b39" stroke-width="0.25"/>
<path d="M504.15,95.0 L564.9,40.06 L564.9,39.47 Z" fill="#ef7e6d" stroke="#ef7e6d" stroke-width="0.25"/>
<path d="M504.15,95.0 L443.4,148.23 L443.4,148.80 Z" fill="#e54938" stroke="#e54938" stroke-width="0.25"/>
<path d="M504.15,95.0 L564.9,39.47 L564.9,38.88 Z" fill="#ee7866" stroke="#ee7866" stroke-width="0.25"/>
<path d="M504.15,95.0 L443.4,148.80 L443.4,149.37 Z" fill="#e44432" stroke="#e44432" stroke-width="0.25"/>
<path d="M504.15,95.0 L564.9,38.88 L564.9,38.29 Z" fill="#ed7261" stroke="#ed7261" stroke-width="0.25"/>
<path d="M504.15,95.0 L443.4,149.37 L443.4,149.94 Z" fill="#e34130" stroke="#e34130" stroke-width="0.25"/>
<path d="M504.15,95.0 L564.9,38.29 L564.9,37.70 Z" fill="#ec6e5c" stroke="#ec6e5c" stroke-width="0.25"/>
<path d="M504.15,95.0 L443.4,149.94 L443.4,150.51 Z" fill="#e24030" stroke="#e24030" stroke-width="0.25"/>
<path d="M504.15,95.0 L564.9,37.70 L564.9,37.10 Z" fill="#e86554" stroke="#e86554" stroke-width="0.25"/>
<path d="M504.15,95.0 L443.4,150.51 L443.4,151.08 Z" fill="#dd3929" stroke="#dd3929" stroke-width="0.25"/>
<path d="M504.15,95.0 L564.9,37.10 L564.9,36.51 Z" fill="#e96251" stroke="#e96251" stroke-width="0.25"/>
<path d="M504.15,95.0 L443.4,151.08 L443.4,151.65 Z" fill="#dd3829" stroke="#dd3829" stroke-width="0.25"/>
<path d="M504.15,95.0 L564.9,36.51 L564.9,35.92 Z" fill="#e75e4e" stroke="#e75e4e" stroke-width="0.25"/>
<path d="M504.15,95.0 L443.4,151.65 L443.4,152.22 Z" fill="#db3727" stroke="#db3727" stroke-width="0.25"/>
<path d="M504.15,95.0 L564.9,35.92 L564.9,35.33 Z" fill="#e95f4f" stroke="#e95f4f" stroke-width="0.25"/>
<path d="M504.15,95.0 L443.4,152.22 L443.4,152.78 Z" fill="#dd3a2c" stroke="#dd3a2c" stroke-width="0.25"/>
<path d="M504.15,95.0 L564.9,35.33 L564.9,34.74 Z" fill="#e85c4c" stroke="#e85c4c" stroke-width="0.25"/>
<path d="M504.15,95.0 L443.4,152.78 L443.4,153.35 Z" fill="#dc392c" stroke="#dc392c" stroke-width="0.25"/>
<path d="M504.15,95.0 L564.9,34.74 L564.9,34.15 Z" fill="#e25243" stroke="#e25243" stroke-width="0.25"/>
<path d="M504.15,95.0 L443.4,153.35 L443.4,153.92 Z" fill="#d53124" stroke="#d53124" stroke-width="0.25"/>
<path d="M504.15,95.0 L564.9,34.15 L564.9,33.55 Z" fill="#e14f3f" stroke="#e14f3f" stroke-width="0.25"/>
<path d="M504.15,95.0 L443.4,153.92 L443.4,154.49 Z" fill="#d42f23" stroke="#d42f23" stroke-width="0.25"/>
<path d="M504.15,95.0 L564.9,33.55 L564.9,32.96 Z" fill="#e14c3c" stroke="#e14c3c" stroke-width="0.25"/>
<path d="M504.15,95.0 L443.4,154.49 L443.4,155.06 Z" fill="#d42e22" stroke="#d42e22" stroke-width="0.25"/>
<path d="M504.15,95.0 L564.9,32.96 L564.9,32.37 Z" fill="#e04839" stroke="#e04839" stroke-width="0.25"/>
<path d="M504.15,95.0 L443.4,155.06 L443.4,155.63 Z" fill="#d22c20" stroke="#d22c20" stroke-width="0.25"/>
<path d="M504.15,95.0 L564.9,32.37 L564.9,31.78 Z" fill="#e34536" stroke="#e34536" stroke-width="0.25"/>
<path d="M504.15,95.0 L443.4,155.63 L443.4,156.20 Z" fill="#d42b20" stroke="#d42b20" stroke-width="0.25"/>
<path d="M504.15,95.0 L564.9,31.78 L564.9,31.19 Z" fill="#e24334" stroke="#e24334" stroke-width="0.25"/>
<path d="M504.15,95.0 L443.4,156.20 L443.4,156.77 Z" fill="#d42b20" stroke="#d42b20" stroke-width="0.25"/>
<path d="M504.15,95.0 L564.9,31.19 L564.9,30.60 Z" fill="#de3d2f" stroke="#de3d2f" stroke-width="0.25"/>
<path d="M504.15,95.0 L443.4,156.77 L443.4,157.34 Z" fill="#cf281d" stroke="#cf281d" stroke-width="0.25"/>
<path d="M504.15,95.0 L564.9,30.60 L564.9,30.01 Z" fill="#d9392b" stroke="#d9392b" stroke-width="0.25"/>
<path d="M504.15,95.0 L443.4,157.34 L443.4,157.91 Z" fill="#cb251c" stroke="#cb251c" stroke-width="0.25"/>
<path d="M504.15,95.0 L564.9,30.01 L564.9,29.41 Z" fill="#dd382a" stroke="#dd382a" stroke-width="0.25"/>
<path d="M504.15,95.0 L443.4,157.91 L443.4,158.48 Z" fill="#cf251b" stroke="#cf251b" stroke-width="0.25"/>
<path d="M504.15,95.0 L564.9,29.41 L564.9,28.82 Z" fill="#db3528" stroke="#db3528" stroke-width="0.25"/>
<path d="M504.15,95.0 L443.4,158.48 L443.4,159.05 Z" fill="#cd231a" stroke="#cd231a" stroke-width="0.25"/>
<path d="M504.15,95.0 L564.9,28.82 L564.9,28.23 Z" fill="#db3428" stroke="#db3428" stroke-width="0.25"/>
<path d="M504.15,95.0 L443.4,159.05 L443.4,159.62 Z" fill="#cd231a" stroke="#cd231a" stroke-width="0.25"/>
<path d="M504.15,95.0 L564.9,28.23 L564.9,27.64 Z" fill="#da362b" stroke="#da362b" stroke-width="0.25"/>
<path d="M504.15,95.0 L443.4,159.62 L443.4,160.18 Z" fill="#cd261e" stroke="#cd261e" stroke-width="0.25"/>
<path d="M504.15,95.0 L564.9,27.64 L564.9,27.05 Z" fill="#d73026" stroke="#d73026" stroke-width="0.25"/>
<path d="M504.15,95.0 L443.4,160.18 L443.4,160.75 Z" fill="#cc221a" stroke="#cc221a" stroke-width="0.25"/>
<path d="M504.15,95.0 L564.9,27.05 L564.9,26.46 Z" fill="#d52c22" stroke="#d52c22" stroke-width="0.25"/>
<path d="M504.15,95.0 L443.4,160.75 L443.4,161.32 Z" fill="#ca1e17" stroke="#ca1e17" stroke-width="0.25"/>
<path d="M504.15,95.0 L564.9,26.46 L564.9,25.86 Z" fill="#d42b22" stroke="#d42b22" stroke-width="0.25"/>
<path d="M504.15,95.0 L443.4,161.32 L443.4,161.89 Z" fill="#c91f18" stroke="#c91f18" stroke-width="0.25"/>
<path d="M504.15,95.0 L564.9,25.86 L564.9,25.27 Z" fill="#d22921" stroke="#d22921" stroke-width="0.25"/>
<path d="M504.15,95.0 L443.4,161.89 L443.4,162.46 Z" fill="#c81f18" stroke="#c81f18" stroke-width="0.25"/>
<path d="M504.15,95.0 L564.9,25.27 L564.9,24.68 Z" fill="#ca231c" stroke="#ca231c" stroke-width="0.25"/>
<path d="M504.15,95.0 L443.4,162.46 L443.4,163.03 Z" fill="#c21b15" stroke="#c21b15" stroke-width="0.25"/>
<path d="M504.15,95.0 L564.9,24.68 L564.9,24.09 Z" fill="#cf2721" stroke="#cf2721" stroke-width="0.25"/>
<path d="M504.15,95.0 L443.4,163.03 L443.4,163.60 Z" fill="#c7201b" stroke="#c7201b" stroke-width="0.25"/>
<path d="M504.15,95.0 L564.9,24.09 L564.9,23.50 Z" fill="#cd231d" stroke="#cd231d" stroke-width="0.25"/>
<path d="M504.15,95.0 L443.4,163.60 L443.4,164.17 Z" fill="#c61d18" stroke="#c61d18" stroke-width="0.25"/>
<path d="M504.15,95.0 L564.9,23.50 L564.9,22.91 Z" fill="#cb221d" stroke="#cb221d" stroke-width="0.25"/>
<path d="M504.15,95.0 L443.4,164.17 L443.4,164.74 Z" fill="#c51e19" stroke="#c51e19" stroke-width="0.25"/>
<path d="M504.15,95.0 L564.9,22.91 L564.9,22.32 Z" fill="#c91e1a" stroke="#c91e1a" stroke-width="0.25"/>
<path d="M504.15,95.0 L443.4,164.74 L443.4,165.31 Z" fill="#c41c18" stroke="#c41c18" stroke-width="0.25"/>
<path d="M504.15,95.0 L564.9,22.32 L564.9,21.72 Z" fill="#c51915" stroke="#c51915" stroke-width="0.25"/>
<path d="M504.15,95.0 L443.4,165.31 L443.4,165.88 Z" fill="#c01713" stroke="#c01713" stroke-width="0.25"/>
<path d="M504.15,95.0 L564.9,21.72 L564.9,21.13 Z" fill="#c21714" stroke="#c21714" stroke-width="0.25"/>
<path d="M504.15,95.0 L443.4,165.88 L443.4,166.45 Z" fill="#c01612" stroke="#c01612" stroke-width="0.25"/>
<path d="M504.15,95.0 L564.9,21.13 L564.9,20.54 Z" fill="#bd1613" stroke="#bd1613" stroke-width="0.25"/>
<path d="M504.15,95.0 L443.4,166.45 L443.4,167.02 Z" fill="#bb1411" stroke="#bb1411" stroke-width="0.25"/>
<path d="M504.15,95.0 L564.9,20.54 L564.9,19.95 Z" fill="#c01714" stroke="#c01714" stroke-width="0.25"/>
<path d="M504.15,95.0 L443.4,167.02 L443.4,167.58 Z" fill="#bf1613" stroke="#bf1613" stroke-width="0.25"/>
<path d="M504.15,95.0 L564.9,19.95 L564.9,19.36 Z" fill="#b81311" stroke="#b81311" stroke-width="0.25"/>
<path d="M504.15,95.0 L443.4,167.58 L443.4,168.15 Z" fill="#b91310" stroke="#b91310" stroke-width="0.25"/>
<path d="M504.15,95.0 L564.9,19.36 L564.9,18.77 Z" fill="#b61210" stroke="#b61210" stroke-width="0.25"/>
<path d="M504.15,95.0 L443.4,168.15 L443.4,168.72 Z" fill="#b81210" stroke="#b81210" stroke-width="0.25"/>
<path d="M504.15,95.0 L564.9,18.77 L564.9,18.17 Z" fill="#b5100f" stroke="#b5100f" stroke-width="0.25"/>
<path d="M504.15,95.0 L443.4,168.72 L443.4,169.29 Z" fill="#b81110" stroke="#b81110" stroke-width="0.25"/>
<path d="M504.15,95.0 L564.9,18.17 L564.9,17.58 Z" fill="#b20f0e" stroke="#b20f0e" stroke-width="0.25"/>
<path d="M504.15,95.0 L443.4,169.29 L443.4,169.86 Z" fill="#b7100f" stroke="#b7100f" stroke-width="0.25"/>
<path d="M504.15,95.0 L564.9,17.58 L564.9,16.99 Z" fill="#b20e0d" stroke="#b20e0d" stroke-width="0.25"/>
<path d="M504.15,95.0 L443.4,169.86 L443.4,170.43 Z" fill="#b80f0f" stroke="#b80f0f" stroke-width="0.25"/>
<path d="M504.15,95.0 L564.9,16.99 L564.9,16.40 Z" fill="#ac0c0c" stroke="#ac0c0c" stroke-width="0.25"/>
<path d="M504.15,95.0 L443.4,170.43 L443.4,171.00 Z" fill="#b40e0e" stroke="#b40e0e" stroke-width="0.25"/>
</g>
<line x1="443.4" y1="15.3" x2="443.4" y2="177.6" stroke="#7a7a7a" stroke-width="1"/>
<line x1="443" y1="177.1" x2="566" y2="177.1" stroke="#7a7a7a" stroke-width="1"/>
<line x1="440.4" y1="168.30" x2="443.4" y2="168.30" stroke="#7a7a7a" stroke-width="0.9"/>
<line x1="441.59999999999997" y1="149.93" x2="443.4" y2="149.93" stroke="#7a7a7a" stroke-width="0.9"/>
<line x1="440.4" y1="131.55" x2="443.4" y2="131.55" stroke="#7a7a7a" stroke-width="0.9"/>
<line x1="441.59999999999997" y1="113.17" x2="443.4" y2="113.17" stroke="#7a7a7a" stroke-width="0.9"/>
<line x1="440.4" y1="94.80" x2="443.4" y2="94.80" stroke="#7a7a7a" stroke-width="0.9"/>
<line x1="441.59999999999997" y1="76.42" x2="443.4" y2="76.42" stroke="#7a7a7a" stroke-width="0.9"/>
<line x1="440.4" y1="58.05" x2="443.4" y2="58.05" stroke="#7a7a7a" stroke-width="0.9"/>
<line x1="441.59999999999997" y1="39.67" x2="443.4" y2="39.67" stroke="#7a7a7a" stroke-width="0.9"/>
<line x1="440.4" y1="21.30" x2="443.4" y2="21.30" stroke="#7a7a7a" stroke-width="0.9"/>
<line x1="443.10" y1="177.1" x2="443.10" y2="180.1" stroke="#7a7a7a" stroke-width="0.9"/>
<line x1="458.46" y1="177.1" x2="458.46" y2="178.9" stroke="#7a7a7a" stroke-width="0.9"/>
<line x1="473.82" y1="177.1" x2="473.82" y2="180.1" stroke="#7a7a7a" stroke-width="0.9"/>
<line x1="489.18" y1="177.1" x2="489.18" y2="178.9" stroke="#7a7a7a" stroke-width="0.9"/>
<line x1="504.54" y1="177.1" x2="504.54" y2="180.1" stroke="#7a7a7a" stroke-width="0.9"/>
<line x1="519.90" y1="177.1" x2="519.90" y2="178.9" stroke="#7a7a7a" stroke-width="0.9"/>
<line x1="535.26" y1="177.1" x2="535.26" y2="180.1" stroke="#7a7a7a" stroke-width="0.9"/>
<line x1="550.62" y1="177.1" x2="550.62" y2="178.9" stroke="#7a7a7a" stroke-width="0.9"/>
<line x1="565.98" y1="177.1" x2="565.98" y2="180.1" stroke="#7a7a7a" stroke-width="0.9"/>
<text x="438.4" y="26.2" font-size="12.3" text-anchor="end" fill="#1a1a1a" stroke="#1a1a1a" stroke-width="0.3" font-weight="normal" >100</text>
<text x="438.4" y="62.9" font-size="12.3" text-anchor="end" fill="#1a1a1a" stroke="#1a1a1a" stroke-width="0.3" font-weight="normal" >50</text>
<text x="438.4" y="99.7" font-size="12.3" text-anchor="end" fill="#1a1a1a" stroke="#1a1a1a" stroke-width="0.3" font-weight="normal" >0</text>
<text x="438.4" y="136.5" font-size="12.3" text-anchor="end" fill="#1a1a1a" stroke="#1a1a1a" stroke-width="0.3" font-weight="normal" >−50</text>
<text x="438.4" y="173.2" font-size="12.3" text-anchor="end" fill="#1a1a1a" stroke="#1a1a1a" stroke-width="0.3" font-weight="normal" >−100</text>
<text x="443.1" y="190.6" font-size="12.3" text-anchor="middle" fill="#1a1a1a" stroke="#1a1a1a" stroke-width="0.3" font-weight="normal" >−1.0</text>
<text x="473.8" y="190.6" font-size="12.3" text-anchor="middle" fill="#1a1a1a" stroke="#1a1a1a" stroke-width="0.3" font-weight="normal" >−0.5</text>
<text x="504.5" y="190.6" font-size="12.3" text-anchor="middle" fill="#1a1a1a" stroke="#1a1a1a" stroke-width="0.3" font-weight="normal" >0.0</text>
<text x="535.3" y="190.6" font-size="12.3" text-anchor="middle" fill="#1a1a1a" stroke="#1a1a1a" stroke-width="0.3" font-weight="normal" >0.5</text>
<text x="566.0" y="190.6" font-size="12.3" text-anchor="middle" fill="#1a1a1a" stroke="#1a1a1a" stroke-width="0.3" font-weight="normal" >1.0</text>
<text x="505.2" y="212.2" font-size="12" text-anchor="middle" fill="#1a1a1a" stroke="#1a1a1a" stroke-width="0.3" font-weight="normal" ><tspan font-style="italic">V</tspan><tspan font-size="8" dy="2.6">ds</tspan><tspan dy="-2.6"> (V)</tspan></text>
<text x="448.3" y="25.6" font-size="11.6" text-anchor="start" fill="#1a1a1a" stroke="#1a1a1a" stroke-width="0.3" font-weight="normal" ><tspan font-style="italic">I</tspan><tspan font-size="8.8" dy="2.8">on</tspan><tspan dy="-2.8" word-spacing="1.4"> = 124 μA μm</tspan><tspan font-size="8" dy="-4.8">-1</tspan></text>
<text x="496.2" y="164.5" font-size="11.8" text-anchor="start" fill="#1a1a1a" stroke="#1a1a1a" stroke-width="0.3" font-weight="normal" ><tspan font-style="italic">L</tspan><tspan font-size="8.8" dy="2.8">ch</tspan><tspan dy="-2.8" word-spacing="0.8"> = 130 nm</tspan></text>
<line x1="663.5" y1="12.4" x2="663.5" y2="168.2" stroke="#7a7a7a" stroke-width="1"/>
<line x1="663.0" y1="167.7" x2="782.1" y2="167.7" stroke="#7a7a7a" stroke-width="1"/>
<line x1="660.5" y1="167.70" x2="663.5" y2="167.70" stroke="#7a7a7a" stroke-width="0.9"/>
<text x="659.0" y="171.8" font-size="11.6" text-anchor="end" fill="#1a1a1a" stroke="#1a1a1a" stroke-width="0.3" font-weight="normal" >0</text>
<line x1="661.7" y1="143.85" x2="663.5" y2="143.85" stroke="#7a7a7a" stroke-width="0.9"/>
<line x1="660.5" y1="120.00" x2="663.5" y2="120.00" stroke="#7a7a7a" stroke-width="0.9"/>
<text x="659.0" y="124.1" font-size="11.6" text-anchor="end" fill="#1a1a1a" stroke="#1a1a1a" stroke-width="0.3" font-weight="normal" >40</text>
<line x1="661.7" y1="96.15" x2="663.5" y2="96.15" stroke="#7a7a7a" stroke-width="0.9"/>
<line x1="660.5" y1="72.30" x2="663.5" y2="72.30" stroke="#7a7a7a" stroke-width="0.9"/>
<text x="659.0" y="76.4" font-size="11.6" text-anchor="end" fill="#1a1a1a" stroke="#1a1a1a" stroke-width="0.3" font-weight="normal" >80</text>
<line x1="661.7" y1="48.45" x2="663.5" y2="48.45" stroke="#7a7a7a" stroke-width="0.9"/>
<line x1="660.5" y1="24.60" x2="663.5" y2="24.60" stroke="#7a7a7a" stroke-width="0.9"/>
<text x="659.0" y="28.7" font-size="11.6" text-anchor="end" fill="#1a1a1a" stroke="#1a1a1a" stroke-width="0.3" font-weight="normal" >120</text>
<line x1="663.50" y1="167.7" x2="663.50" y2="170.7" stroke="#7a7a7a" stroke-width="0.9"/>
<text x="663.5" y="181.2" font-size="11.6" text-anchor="middle" fill="#1a1a1a" stroke="#1a1a1a" stroke-width="0.3" font-weight="normal" >0</text>
<line x1="680.43" y1="167.7" x2="680.43" y2="169.5" stroke="#7a7a7a" stroke-width="0.9"/>
<line x1="697.37" y1="167.7" x2="697.37" y2="170.7" stroke="#7a7a7a" stroke-width="0.9"/>
<text x="697.4" y="181.2" font-size="11.6" text-anchor="middle" fill="#1a1a1a" stroke="#1a1a1a" stroke-width="0.3" font-weight="normal" >1</text>
<line x1="714.30" y1="167.7" x2="714.30" y2="169.5" stroke="#7a7a7a" stroke-width="0.9"/>
<line x1="731.24" y1="167.7" x2="731.24" y2="170.7" stroke="#7a7a7a" stroke-width="0.9"/>
<text x="731.2" y="181.2" font-size="11.6" text-anchor="middle" fill="#1a1a1a" stroke="#1a1a1a" stroke-width="0.3" font-weight="normal" >2</text>
<line x1="748.17" y1="167.7" x2="748.17" y2="169.5" stroke="#7a7a7a" stroke-width="0.9"/>
<line x1="765.11" y1="167.7" x2="765.11" y2="170.7" stroke="#7a7a7a" stroke-width="0.9"/>
<text x="765.1" y="181.2" font-size="11.6" text-anchor="middle" fill="#1a1a1a" stroke="#1a1a1a" stroke-width="0.3" font-weight="normal" >3</text>
<line x1="782.04" y1="167.7" x2="782.04" y2="169.5" stroke="#7a7a7a" stroke-width="0.9"/>
<line x1="664" y1="165.5" x2="781.3" y2="14.1" stroke="#6e6e6e" stroke-width="1.2" stroke-dasharray="5 3.2"/>
<rect x="686.7" y="130.5" width="7" height="7" fill="#3c3c3c" fill-opacity="0.92"/>
<rect x="696.9" y="112.3" width="7" height="7" fill="#3c3c3c" fill-opacity="0.92"/>
<rect x="715.0" y="83.2" width="7" height="7" fill="#3c3c3c" fill-opacity="0.92"/>
<rect x="747.3" y="44.1" width="7" height="7" fill="#3c3c3c" fill-opacity="0.92"/>
<rect x="766.8" y="27.9" width="7" height="7" fill="#3c3c3c" fill-opacity="0.92"/>
<text x="722.8" y="202.1" font-size="12.2" text-anchor="middle" fill="#1a1a1a" stroke="#1a1a1a" stroke-width="0.3" font-weight="normal" >Channel length (μm)</text>
<text transform="translate(635.5,89.6) rotate(-90)" font-size="12.6" text-anchor="middle" fill="#1a1a1a">Total resistance (kΩ μm)</text>
<text x="669.1" y="26.1" font-size="11.8" text-anchor="start" fill="#1a1a1a" stroke="#1a1a1a" stroke-width="0.3" font-weight="normal" ><tspan font-style="italic">h</tspan><tspan word-spacing="0.6"> ~ 1× 10</tspan><tspan font-size="8.2" dy="-4.8">13</tspan><tspan dy="4.8" word-spacing="0.6"> cm</tspan><tspan font-size="8.2" dy="-4.8">-2</tspan></text>
<text x="691.5" y="162.5" font-size="12" text-anchor="start" fill="#1a1a1a" stroke="#1a1a1a" stroke-width="0.3" font-weight="normal" ><tspan font-style="italic">R</tspan><tspan font-size="8.5" dy="2.8">C</tspan><tspan dy="-2.8" word-spacing="0.35"> = 1.6 kΩ μm</tspan></text>
<rect x="726" y="100.4" width="50" height="49.8" fill="#5c5438"/>
<path d="M766,101.5 L772.5,101.5 L743,150.2 L736.5,150.2 Z" fill="#3a3222" opacity="0.9"/>
<path d="M744.9,100.4 L748.7,106.5 L763.4,115.4" fill="none" stroke="#f0d276" stroke-width="2.9"/>
<path d="M757.0,107.8 L766.0,112.9 L775.9,110.3" fill="none" stroke="#f0d276" stroke-width="2.9"/>
<path d="M726.1,112.2 L734.0,114.2 L756.4,128.8" fill="none" stroke="#f0d276" stroke-width="2.9"/>
<path d="M749.4,119.3 L775.9,132.7" fill="none" stroke="#f0d276" stroke-width="2.9"/>
<path d="M726.1,133.9 L736.6,133.3 L747.4,140.3" fill="none" stroke="#f0d276" stroke-width="2.9"/>
<path d="M741.7,130.1 L752.6,136.5 L763.4,149.9" fill="none" stroke="#f0d276" stroke-width="2.9"/>
<line x1="764" y1="146.2" x2="771.7" y2="146.2" stroke="#fff" stroke-width="1.4"/>
<text x="759.3" y="142.2" font-size="6.6" text-anchor="start" fill="#ffffff" stroke="#ffffff" stroke-width="0.1" font-weight="normal" >2 μm</text>
<rect x="53.2" y="244.5" width="71.8" height="8.8" fill="url(#gGold)"/>
<rect x="53.2" y="253.3" width="71.8" height="4.8" fill="#dcb070"/>
<path d="M60.2,253.3 L66.2,253.3 L68.2,258.1 L62.2,258.1 Z" fill="#a88048" opacity="0.45"/>
<path d="M73.2,253.3 L79.2,253.3 L81.2,258.1 L75.2,258.1 Z" fill="#a88048" opacity="0.45"/>
<path d="M86.2,253.3 L92.2,253.3 L94.2,258.1 L88.2,258.1 Z" fill="#a88048" opacity="0.45"/>
<path d="M99.2,253.3 L105.2,253.3 L107.2,258.1 L101.2,258.1 Z" fill="#a88048" opacity="0.45"/>
<path d="M112.2,253.3 L118.2,253.3 L120.2,258.1 L114.2,258.1 Z" fill="#a88048" opacity="0.45"/>
<path d="M53.2,253.3 L58.2,258.1 L53.2,258.1 Z" fill="#f2dcae"/>
<rect x="53.2" y="258.1" width="71.8" height="54.8" fill="#e8e1d2"/>
<line x1="64.0" y1="264.8" x2="67.6" y2="268.1" stroke="#5e6478" stroke-width="8.8" stroke-linecap="round"/>
<circle cx="67.6" cy="268.1" r="4.4" fill="url(#gTeD)"/>
<circle cx="64.0" cy="264.8" r="4.6" fill="url(#gTe)"/>
<line x1="77.1" y1="264.8" x2="80.2" y2="268.1" stroke="#5e6478" stroke-width="8.8" stroke-linecap="round"/>
<circle cx="80.2" cy="268.1" r="4.4" fill="url(#gTeD)"/>
<circle cx="77.1" cy="264.8" r="4.6" fill="url(#gTe)"/>
<line x1="90.3" y1="264.8" x2="92.8" y2="268.1" stroke="#5e6478" stroke-width="8.8" stroke-linecap="round"/>
<circle cx="92.8" cy="268.1" r="4.4" fill="url(#gTeD)"/>
<circle cx="90.3" cy="264.8" r="4.6" fill="url(#gTe)"/>
<line x1="103.5" y1="264.8" x2="105.4" y2="268.1" stroke="#5e6478" stroke-width="8.8" stroke-linecap="round"/>
<circle cx="105.4" cy="268.1" r="4.4" fill="url(#gTeD)"/>
<circle cx="103.5" cy="264.8" r="4.6" fill="url(#gTe)"/>
<line x1="116.6" y1="264.8" x2="118.0" y2="268.1" stroke="#5e6478" stroke-width="8.8" stroke-linecap="round"/>
<circle cx="118.0" cy="268.1" r="4.4" fill="url(#gTeD)"/>
<circle cx="116.6" cy="264.8" r="4.6" fill="url(#gTe)"/>
<line x1="64.0" y1="278.1" x2="67.6" y2="280.7" stroke="#5e6478" stroke-width="8.8" stroke-linecap="round"/>
<circle cx="67.6" cy="280.7" r="4.4" fill="url(#gTeD)"/>
<circle cx="64.0" cy="278.1" r="4.6" fill="url(#gTe)"/>
<line x1="77.1" y1="278.1" x2="80.2" y2="280.7" stroke="#5e6478" stroke-width="8.8" stroke-linecap="round"/>
<circle cx="80.2" cy="280.7" r="4.4" fill="url(#gTeD)"/>
<circle cx="77.1" cy="278.1" r="4.6" fill="url(#gTe)"/>
<line x1="90.3" y1="278.1" x2="92.8" y2="280.7" stroke="#5e6478" stroke-width="8.8" stroke-linecap="round"/>
<circle cx="92.8" cy="280.7" r="4.4" fill="url(#gTeD)"/>
<circle cx="90.3" cy="278.1" r="4.6" fill="url(#gTe)"/>
<line x1="103.5" y1="278.1" x2="105.4" y2="280.7" stroke="#5e6478" stroke-width="8.8" stroke-linecap="round"/>
<circle cx="105.4" cy="280.7" r="4.4" fill="url(#gTeD)"/>
<circle cx="103.5" cy="278.1" r="4.6" fill="url(#gTe)"/>
<line x1="116.6" y1="278.1" x2="118.0" y2="280.7" stroke="#5e6478" stroke-width="8.8" stroke-linecap="round"/>
<circle cx="118.0" cy="280.7" r="4.4" fill="url(#gTeD)"/>
<circle cx="116.6" cy="278.1" r="4.6" fill="url(#gTe)"/>
<line x1="64.0" y1="291.4" x2="67.6" y2="293.4" stroke="#5e6478" stroke-width="8.8" stroke-linecap="round"/>
<circle cx="67.6" cy="293.4" r="4.4" fill="url(#gTeD)"/>
<circle cx="64.0" cy="291.4" r="4.6" fill="url(#gTe)"/>
<line x1="77.1" y1="291.4" x2="80.2" y2="293.4" stroke="#5e6478" stroke-width="8.8" stroke-linecap="round"/>
<circle cx="80.2" cy="293.4" r="4.4" fill="url(#gTeD)"/>
<circle cx="77.1" cy="291.4" r="4.6" fill="url(#gTe)"/>
<line x1="90.3" y1="291.4" x2="92.8" y2="293.4" stroke="#5e6478" stroke-width="8.8" stroke-linecap="round"/>
<circle cx="92.8" cy="293.4" r="4.4" fill="url(#gTeD)"/>
<circle cx="90.3" cy="291.4" r="4.6" fill="url(#gTe)"/>
<line x1="103.5" y1="291.4" x2="105.4" y2="293.4" stroke="#5e6478" stroke-width="8.8" stroke-linecap="round"/>
<circle cx="105.4" cy="293.4" r="4.4" fill="url(#gTeD)"/>
<circle cx="103.5" cy="291.4" r="4.6" fill="url(#gTe)"/>
<line x1="116.6" y1="291.4" x2="118.0" y2="293.4" stroke="#5e6478" stroke-width="8.8" stroke-linecap="round"/>
<circle cx="118.0" cy="293.4" r="4.4" fill="url(#gTeD)"/>
<circle cx="116.6" cy="291.4" r="4.6" fill="url(#gTe)"/>
<line x1="64.0" y1="304.7" x2="67.6" y2="306.0" stroke="#5e6478" stroke-width="8.8" stroke-linecap="round"/>
<circle cx="67.6" cy="306.0" r="4.4" fill="url(#gTeD)"/>
<circle cx="64.0" cy="304.7" r="4.6" fill="url(#gTe)"/>
<line x1="77.1" y1="304.7" x2="80.2" y2="306.0" stroke="#5e6478" stroke-width="8.8" stroke-linecap="round"/>
<circle cx="80.2" cy="306.0" r="4.4" fill="url(#gTeD)"/>
<circle cx="77.1" cy="304.7" r="4.6" fill="url(#gTe)"/>
<line x1="90.3" y1="304.7" x2="92.8" y2="306.0" stroke="#5e6478" stroke-width="8.8" stroke-linecap="round"/>
<circle cx="92.8" cy="306.0" r="4.4" fill="url(#gTeD)"/>
<circle cx="90.3" cy="304.7" r="4.6" fill="url(#gTe)"/>
<line x1="103.5" y1="304.7" x2="105.4" y2="306.0" stroke="#5e6478" stroke-width="8.8" stroke-linecap="round"/>
<circle cx="105.4" cy="306.0" r="4.4" fill="url(#gTeD)"/>
<circle cx="103.5" cy="304.7" r="4.6" fill="url(#gTe)"/>
<line x1="116.6" y1="304.7" x2="118.0" y2="306.0" stroke="#5e6478" stroke-width="8.8" stroke-linecap="round"/>
<circle cx="118.0" cy="306.0" r="4.4" fill="url(#gTeD)"/>
<circle cx="116.6" cy="304.7" r="4.6" fill="url(#gTe)"/>
<rect x="175.2" y="244.5" width="71.1" height="8.8" fill="url(#gGold)"/>
<rect x="175.2" y="253.3" width="71.1" height="4.8" fill="#dcb070"/>
<path d="M182.2,253.3 L188.2,253.3 L190.2,258.1 L184.2,258.1 Z" fill="#a88048" opacity="0.45"/>
<path d="M195.2,253.3 L201.2,253.3 L203.2,258.1 L197.2,258.1 Z" fill="#a88048" opacity="0.45"/>
<path d="M208.2,253.3 L214.2,253.3 L216.2,258.1 L210.2,258.1 Z" fill="#a88048" opacity="0.45"/>
<path d="M221.2,253.3 L227.2,253.3 L229.2,258.1 L223.2,258.1 Z" fill="#a88048" opacity="0.45"/>
<path d="M234.2,253.3 L240.2,253.3 L242.2,258.1 L236.2,258.1 Z" fill="#a88048" opacity="0.45"/>
<path d="M246.3,253.3 L241.3,258.1 L246.3,258.1 Z" fill="#f2dcae"/>
<rect x="175.2" y="258.1" width="71.1" height="54.8" fill="#e8e1d2"/>
<line x1="182.5" y1="264.8" x2="181.2" y2="268.1" stroke="#5e6478" stroke-width="8.8" stroke-linecap="round"/>
<circle cx="181.2" cy="268.1" r="4.4" fill="url(#gTeD)"/>
<circle cx="182.5" cy="264.8" r="4.6" fill="url(#gTe)"/>
<line x1="195.7" y1="264.8" x2="193.8" y2="268.1" stroke="#5e6478" stroke-width="8.8" stroke-linecap="round"/>
<circle cx="193.8" cy="268.1" r="4.4" fill="url(#gTeD)"/>
<circle cx="195.7" cy="264.8" r="4.6" fill="url(#gTe)"/>
<line x1="208.9" y1="264.8" x2="206.4" y2="268.1" stroke="#5e6478" stroke-width="8.8" stroke-linecap="round"/>
<circle cx="206.4" cy="268.1" r="4.4" fill="url(#gTeD)"/>
<circle cx="208.9" cy="264.8" r="4.6" fill="url(#gTe)"/>
<line x1="222.0" y1="264.8" x2="219.0" y2="268.1" stroke="#5e6478" stroke-width="8.8" stroke-linecap="round"/>
<circle cx="219.0" cy="268.1" r="4.4" fill="url(#gTeD)"/>
<circle cx="222.0" cy="264.8" r="4.6" fill="url(#gTe)"/>
<line x1="235.2" y1="264.8" x2="231.6" y2="268.1" stroke="#5e6478" stroke-width="8.8" stroke-linecap="round"/>
<circle cx="231.6" cy="268.1" r="4.4" fill="url(#gTeD)"/>
<circle cx="235.2" cy="264.8" r="4.6" fill="url(#gTe)"/>
<line x1="182.5" y1="278.1" x2="181.2" y2="280.7" stroke="#5e6478" stroke-width="8.8" stroke-linecap="round"/>
<circle cx="181.2" cy="280.7" r="4.4" fill="url(#gTeD)"/>
<circle cx="182.5" cy="278.1" r="4.6" fill="url(#gTe)"/>
<line x1="195.7" y1="278.1" x2="193.8" y2="280.7" stroke="#5e6478" stroke-width="8.8" stroke-linecap="round"/>
<circle cx="193.8" cy="280.7" r="4.4" fill="url(#gTeD)"/>
<circle cx="195.7" cy="278.1" r="4.6" fill="url(#gTe)"/>
<line x1="208.9" y1="278.1" x2="206.4" y2="280.7" stroke="#5e6478" stroke-width="8.8" stroke-linecap="round"/>
<circle cx="206.4" cy="280.7" r="4.4" fill="url(#gTeD)"/>
<circle cx="208.9" cy="278.1" r="4.6" fill="url(#gTe)"/>
<line x1="222.0" y1="278.1" x2="219.0" y2="280.7" stroke="#5e6478" stroke-width="8.8" stroke-linecap="round"/>
<circle cx="219.0" cy="280.7" r="4.4" fill="url(#gTeD)"/>
<circle cx="222.0" cy="278.1" r="4.6" fill="url(#gTe)"/>
<line x1="235.2" y1="278.1" x2="231.6" y2="280.7" stroke="#5e6478" stroke-width="8.8" stroke-linecap="round"/>
<circle cx="231.6" cy="280.7" r="4.4" fill="url(#gTeD)"/>
<circle cx="235.2" cy="278.1" r="4.6" fill="url(#gTe)"/>
<line x1="182.5" y1="291.4" x2="181.2" y2="293.4" stroke="#5e6478" stroke-width="8.8" stroke-linecap="round"/>
<circle cx="181.2" cy="293.4" r="4.4" fill="url(#gTeD)"/>
<circle cx="182.5" cy="291.4" r="4.6" fill="url(#gTe)"/>
<line x1="195.7" y1="291.4" x2="193.8" y2="293.4" stroke="#5e6478" stroke-width="8.8" stroke-linecap="round"/>
<circle cx="193.8" cy="293.4" r="4.4" fill="url(#gTeD)"/>
<circle cx="195.7" cy="291.4" r="4.6" fill="url(#gTe)"/>
<line x1="208.9" y1="291.4" x2="206.4" y2="293.4" stroke="#5e6478" stroke-width="8.8" stroke-linecap="round"/>
<circle cx="206.4" cy="293.4" r="4.4" fill="url(#gTeD)"/>
<circle cx="208.9" cy="291.4" r="4.6" fill="url(#gTe)"/>
<line x1="222.0" y1="291.4" x2="219.0" y2="293.4" stroke="#5e6478" stroke-width="8.8" stroke-linecap="round"/>
<circle cx="219.0" cy="293.4" r="4.4" fill="url(#gTeD)"/>
<circle cx="222.0" cy="291.4" r="4.6" fill="url(#gTe)"/>
<line x1="235.2" y1="291.4" x2="231.6" y2="293.4" stroke="#5e6478" stroke-width="8.8" stroke-linecap="round"/>
<circle cx="231.6" cy="293.4" r="4.4" fill="url(#gTeD)"/>
<circle cx="235.2" cy="291.4" r="4.6" fill="url(#gTe)"/>
<line x1="182.5" y1="304.7" x2="181.2" y2="306.0" stroke="#5e6478" stroke-width="8.8" stroke-linecap="round"/>
<circle cx="181.2" cy="306.0" r="4.4" fill="url(#gTeD)"/>
<circle cx="182.5" cy="304.7" r="4.6" fill="url(#gTe)"/>
<line x1="195.7" y1="304.7" x2="193.8" y2="306.0" stroke="#5e6478" stroke-width="8.8" stroke-linecap="round"/>
<circle cx="193.8" cy="306.0" r="4.4" fill="url(#gTeD)"/>
<circle cx="195.7" cy="304.7" r="4.6" fill="url(#gTe)"/>
<line x1="208.9" y1="304.7" x2="206.4" y2="306.0" stroke="#5e6478" stroke-width="8.8" stroke-linecap="round"/>
<circle cx="206.4" cy="306.0" r="4.4" fill="url(#gTeD)"/>
<circle cx="208.9" cy="304.7" r="4.6" fill="url(#gTe)"/>
<line x1="222.0" y1="304.7" x2="219.0" y2="306.0" stroke="#5e6478" stroke-width="8.8" stroke-linecap="round"/>
<circle cx="219.0" cy="306.0" r="4.4" fill="url(#gTeD)"/>
<circle cx="222.0" cy="304.7" r="4.6" fill="url(#gTe)"/>
<line x1="235.2" y1="304.7" x2="231.6" y2="306.0" stroke="#5e6478" stroke-width="8.8" stroke-linecap="round"/>
<circle cx="231.6" cy="306.0" r="4.4" fill="url(#gTeD)"/>
<circle cx="235.2" cy="304.7" r="4.6" fill="url(#gTe)"/>
<line x1="67.6" y1="327.1" x2="238.3" y2="327.1" stroke="#d8b0a0" stroke-width="2.6"/>
<line x1="58.5" y1="319.2" x2="63.6" y2="319.4" stroke="#8a92ae" stroke-width="8.6" stroke-linecap="round"/>
<circle cx="63.6" cy="319.4" r="4.3" fill="url(#gTeB)"/>
<circle cx="58.5" cy="319.2" r="4.5" fill="url(#gTe)"/>
<line x1="71.6" y1="319.2" x2="76.0" y2="319.4" stroke="#8a92ae" stroke-width="8.6" stroke-linecap="round"/>
<circle cx="76.0" cy="319.4" r="4.3" fill="url(#gTeB)"/>
<circle cx="71.6" cy="319.2" r="4.5" fill="url(#gTe)"/>
<line x1="84.8" y1="319.2" x2="88.4" y2="319.4" stroke="#8a92ae" stroke-width="8.6" stroke-linecap="round"/>
<circle cx="88.4" cy="319.4" r="4.3" fill="url(#gTeB)"/>
<circle cx="84.8" cy="319.2" r="4.5" fill="url(#gTe)"/>
<line x1="97.9" y1="319.2" x2="100.8" y2="319.4" stroke="#8a92ae" stroke-width="8.6" stroke-linecap="round"/>
<circle cx="100.8" cy="319.4" r="4.3" fill="url(#gTeB)"/>
<circle cx="97.9" cy="319.2" r="4.5" fill="url(#gTe)"/>
<line x1="111.0" y1="319.2" x2="113.2" y2="319.4" stroke="#8a92ae" stroke-width="8.6" stroke-linecap="round"/>
<circle cx="113.2" cy="319.4" r="4.3" fill="url(#gTeB)"/>
<circle cx="111.0" cy="319.2" r="4.5" fill="url(#gTe)"/>
<line x1="124.2" y1="319.2" x2="125.6" y2="319.4" stroke="#8a92ae" stroke-width="8.6" stroke-linecap="round"/>
<circle cx="125.6" cy="319.4" r="4.3" fill="url(#gTeB)"/>
<circle cx="124.2" cy="319.2" r="4.5" fill="url(#gTe)"/>
<line x1="137.3" y1="319.2" x2="138.0" y2="319.4" stroke="#8a92ae" stroke-width="8.6" stroke-linecap="round"/>
<circle cx="138.0" cy="319.4" r="4.3" fill="url(#gTeB)"/>
<circle cx="137.3" cy="319.2" r="4.5" fill="url(#gTe)"/>
<line x1="150.4" y1="319.2" x2="150.4" y2="319.4" stroke="#8a92ae" stroke-width="8.6" stroke-linecap="round"/>
<circle cx="150.4" cy="319.4" r="4.3" fill="url(#gTeB)"/>
<circle cx="150.4" cy="319.2" r="4.5" fill="url(#gTe)"/>
<line x1="163.5" y1="319.2" x2="162.8" y2="319.4" stroke="#8a92ae" stroke-width="8.6" stroke-linecap="round"/>
<circle cx="162.8" cy="319.4" r="4.3" fill="url(#gTeB)"/>
<circle cx="163.5" cy="319.2" r="4.5" fill="url(#gTe)"/>
<line x1="176.7" y1="319.2" x2="175.2" y2="319.4" stroke="#8a92ae" stroke-width="8.6" stroke-linecap="round"/>
<circle cx="175.2" cy="319.4" r="4.3" fill="url(#gTeB)"/>
<circle cx="176.7" cy="319.2" r="4.5" fill="url(#gTe)"/>
<line x1="189.8" y1="319.2" x2="187.6" y2="319.4" stroke="#8a92ae" stroke-width="8.6" stroke-linecap="round"/>
<circle cx="187.6" cy="319.4" r="4.3" fill="url(#gTeB)"/>
<circle cx="189.8" cy="319.2" r="4.5" fill="url(#gTe)"/>
<line x1="202.9" y1="319.2" x2="200.0" y2="319.4" stroke="#8a92ae" stroke-width="8.6" stroke-linecap="round"/>
<circle cx="200.0" cy="319.4" r="4.3" fill="url(#gTeB)"/>
<circle cx="202.9" cy="319.2" r="4.5" fill="url(#gTe)"/>
<line x1="216.1" y1="319.2" x2="212.4" y2="319.4" stroke="#8a92ae" stroke-width="8.6" stroke-linecap="round"/>
<circle cx="212.4" cy="319.4" r="4.3" fill="url(#gTeB)"/>
<circle cx="216.1" cy="319.2" r="4.5" fill="url(#gTe)"/>
<line x1="229.2" y1="319.2" x2="224.8" y2="319.4" stroke="#8a92ae" stroke-width="8.6" stroke-linecap="round"/>
<circle cx="224.8" cy="319.4" r="4.3" fill="url(#gTeB)"/>
<circle cx="229.2" cy="319.2" r="4.5" fill="url(#gTe)"/>
<line x1="242.3" y1="319.2" x2="237.2" y2="319.4" stroke="#8a92ae" stroke-width="8.6" stroke-linecap="round"/>
<circle cx="237.2" cy="319.4" r="4.3" fill="url(#gTeB)"/>
<circle cx="242.3" cy="319.2" r="4.5" fill="url(#gTe)"/>
<line x1="67.6" y1="327.1" x2="72.2" y2="327.2" stroke="#d2a898" stroke-width="7.9" stroke-linecap="round"/>
<circle cx="67.6" cy="327.1" r="4.15" fill="url(#gMo)"/>
<line x1="80.7" y1="327.1" x2="84.6" y2="327.2" stroke="#d2a898" stroke-width="7.9" stroke-linecap="round"/>
<circle cx="80.7" cy="327.1" r="4.15" fill="url(#gMo)"/>
<line x1="93.9" y1="327.1" x2="97.0" y2="327.2" stroke="#d2a898" stroke-width="7.9" stroke-linecap="round"/>
<circle cx="93.9" cy="327.1" r="4.15" fill="url(#gMo)"/>
<line x1="107.0" y1="327.1" x2="109.4" y2="327.2" stroke="#d2a898" stroke-width="7.9" stroke-linecap="round"/>
<circle cx="107.0" cy="327.1" r="4.15" fill="url(#gMo)"/>
<line x1="120.1" y1="327.1" x2="121.8" y2="327.2" stroke="#d2a898" stroke-width="7.9" stroke-linecap="round"/>
<circle cx="120.1" cy="327.1" r="4.15" fill="url(#gMo)"/>
<line x1="133.2" y1="327.1" x2="134.2" y2="327.2" stroke="#d2a898" stroke-width="7.9" stroke-linecap="round"/>
<circle cx="133.2" cy="327.1" r="4.15" fill="url(#gMo)"/>
<line x1="146.4" y1="327.1" x2="146.6" y2="327.2" stroke="#d2a898" stroke-width="7.9" stroke-linecap="round"/>
<circle cx="146.4" cy="327.1" r="4.15" fill="url(#gMo)"/>
<line x1="159.5" y1="327.1" x2="159.0" y2="327.2" stroke="#d2a898" stroke-width="7.9" stroke-linecap="round"/>
<circle cx="159.5" cy="327.1" r="4.15" fill="url(#gMo)"/>
<line x1="172.6" y1="327.1" x2="171.4" y2="327.2" stroke="#d2a898" stroke-width="7.9" stroke-linecap="round"/>
<circle cx="172.6" cy="327.1" r="4.15" fill="url(#gMo)"/>
<line x1="185.8" y1="327.1" x2="183.8" y2="327.2" stroke="#d2a898" stroke-width="7.9" stroke-linecap="round"/>
<circle cx="185.8" cy="327.1" r="4.15" fill="url(#gMo)"/>
<line x1="198.9" y1="327.1" x2="196.2" y2="327.2" stroke="#d2a898" stroke-width="7.9" stroke-linecap="round"/>
<circle cx="198.9" cy="327.1" r="4.15" fill="url(#gMo)"/>
<line x1="212.0" y1="327.1" x2="208.6" y2="327.2" stroke="#d2a898" stroke-width="7.9" stroke-linecap="round"/>
<circle cx="212.0" cy="327.1" r="4.15" fill="url(#gMo)"/>
<line x1="225.2" y1="327.1" x2="221.0" y2="327.2" stroke="#d2a898" stroke-width="7.9" stroke-linecap="round"/>
<circle cx="225.2" cy="327.1" r="4.15" fill="url(#gMo)"/>
<line x1="238.3" y1="327.1" x2="233.3" y2="327.2" stroke="#d2a898" stroke-width="7.9" stroke-linecap="round"/>
<circle cx="238.3" cy="327.1" r="4.15" fill="url(#gMo)"/>
<line x1="58.5" y1="334.5" x2="63.6" y2="334.4" stroke="#8a92ae" stroke-width="8.6" stroke-linecap="round"/>
<circle cx="63.6" cy="334.4" r="4.3" fill="url(#gTeB)"/>
<circle cx="58.5" cy="334.5" r="4.5" fill="url(#gTe)"/>
<line x1="71.6" y1="334.5" x2="76.0" y2="334.4" stroke="#8a92ae" stroke-width="8.6" stroke-linecap="round"/>
<circle cx="76.0" cy="334.4" r="4.3" fill="url(#gTeB)"/>
<circle cx="71.6" cy="334.5" r="4.5" fill="url(#gTe)"/>
<line x1="84.8" y1="334.5" x2="88.4" y2="334.4" stroke="#8a92ae" stroke-width="8.6" stroke-linecap="round"/>
<circle cx="88.4" cy="334.4" r="4.3" fill="url(#gTeB)"/>
<circle cx="84.8" cy="334.5" r="4.5" fill="url(#gTe)"/>
<line x1="97.9" y1="334.5" x2="100.8" y2="334.4" stroke="#8a92ae" stroke-width="8.6" stroke-linecap="round"/>
<circle cx="100.8" cy="334.4" r="4.3" fill="url(#gTeB)"/>
<circle cx="97.9" cy="334.5" r="4.5" fill="url(#gTe)"/>
<line x1="111.0" y1="334.5" x2="113.2" y2="334.4" stroke="#8a92ae" stroke-width="8.6" stroke-linecap="round"/>
<circle cx="113.2" cy="334.4" r="4.3" fill="url(#gTeB)"/>
<circle cx="111.0" cy="334.5" r="4.5" fill="url(#gTe)"/>
<line x1="124.2" y1="334.5" x2="125.6" y2="334.4" stroke="#8a92ae" stroke-width="8.6" stroke-linecap="round"/>
<circle cx="125.6" cy="334.4" r="4.3" fill="url(#gTeB)"/>
<circle cx="124.2" cy="334.5" r="4.5" fill="url(#gTe)"/>
<line x1="137.3" y1="334.5" x2="138.0" y2="334.4" stroke="#8a92ae" stroke-width="8.6" stroke-linecap="round"/>
<circle cx="138.0" cy="334.4" r="4.3" fill="url(#gTeB)"/>
<circle cx="137.3" cy="334.5" r="4.5" fill="url(#gTe)"/>
<line x1="150.4" y1="334.5" x2="150.4" y2="334.4" stroke="#8a92ae" stroke-width="8.6" stroke-linecap="round"/>
<circle cx="150.4" cy="334.4" r="4.3" fill="url(#gTeB)"/>
<circle cx="150.4" cy="334.5" r="4.5" fill="url(#gTe)"/>
<line x1="163.5" y1="334.5" x2="162.8" y2="334.4" stroke="#8a92ae" stroke-width="8.6" stroke-linecap="round"/>
<circle cx="162.8" cy="334.4" r="4.3" fill="url(#gTeB)"/>
<circle cx="163.5" cy="334.5" r="4.5" fill="url(#gTe)"/>
<line x1="176.7" y1="334.5" x2="175.2" y2="334.4" stroke="#8a92ae" stroke-width="8.6" stroke-linecap="round"/>
<circle cx="175.2" cy="334.4" r="4.3" fill="url(#gTeB)"/>
<circle cx="176.7" cy="334.5" r="4.5" fill="url(#gTe)"/>
<line x1="189.8" y1="334.5" x2="187.6" y2="334.4" stroke="#8a92ae" stroke-width="8.6" stroke-linecap="round"/>
<circle cx="187.6" cy="334.4" r="4.3" fill="url(#gTeB)"/>
<circle cx="189.8" cy="334.5" r="4.5" fill="url(#gTe)"/>
<line x1="202.9" y1="334.5" x2="200.0" y2="334.4" stroke="#8a92ae" stroke-width="8.6" stroke-linecap="round"/>
<circle cx="200.0" cy="334.4" r="4.3" fill="url(#gTeB)"/>
<circle cx="202.9" cy="334.5" r="4.5" fill="url(#gTe)"/>
<line x1="216.1" y1="334.5" x2="212.4" y2="334.4" stroke="#8a92ae" stroke-width="8.6" stroke-linecap="round"/>
<circle cx="212.4" cy="334.4" r="4.3" fill="url(#gTeB)"/>
<circle cx="216.1" cy="334.5" r="4.5" fill="url(#gTe)"/>
<line x1="229.2" y1="334.5" x2="224.8" y2="334.4" stroke="#8a92ae" stroke-width="8.6" stroke-linecap="round"/>
<circle cx="224.8" cy="334.4" r="4.3" fill="url(#gTeB)"/>
<circle cx="229.2" cy="334.5" r="4.5" fill="url(#gTe)"/>
<line x1="242.3" y1="334.5" x2="237.2" y2="334.4" stroke="#8a92ae" stroke-width="8.6" stroke-linecap="round"/>
<circle cx="237.2" cy="334.4" r="4.3" fill="url(#gTeB)"/>
<circle cx="242.3" cy="334.5" r="4.5" fill="url(#gTe)"/>
<line x1="59.2" y1="355.6" x2="243.0" y2="355.6" stroke="#d8b0a0" stroke-width="2.6"/>
<line x1="68.0" y1="348.3" x2="72.6" y2="347.9" stroke="#8a92ae" stroke-width="8.6" stroke-linecap="round"/>
<circle cx="72.6" cy="347.9" r="4.3" fill="url(#gTeB)"/>
<circle cx="68.0" cy="348.3" r="4.5" fill="url(#gTe)"/>
<line x1="81.1" y1="348.3" x2="85.0" y2="347.9" stroke="#8a92ae" stroke-width="8.6" stroke-linecap="round"/>
<circle cx="85.0" cy="347.9" r="4.3" fill="url(#gTeB)"/>
<circle cx="81.1" cy="348.3" r="4.5" fill="url(#gTe)"/>
<line x1="94.3" y1="348.3" x2="97.4" y2="347.9" stroke="#8a92ae" stroke-width="8.6" stroke-linecap="round"/>
<circle cx="97.4" cy="347.9" r="4.3" fill="url(#gTeB)"/>
<circle cx="94.3" cy="348.3" r="4.5" fill="url(#gTe)"/>
<line x1="107.4" y1="348.3" x2="109.8" y2="347.9" stroke="#8a92ae" stroke-width="8.6" stroke-linecap="round"/>
<circle cx="109.8" cy="347.9" r="4.3" fill="url(#gTeB)"/>
<circle cx="107.4" cy="348.3" r="4.5" fill="url(#gTe)"/>
<line x1="120.5" y1="348.3" x2="122.2" y2="347.9" stroke="#8a92ae" stroke-width="8.6" stroke-linecap="round"/>
<circle cx="122.2" cy="347.9" r="4.3" fill="url(#gTeB)"/>
<circle cx="120.5" cy="348.3" r="4.5" fill="url(#gTe)"/>
<line x1="133.7" y1="348.3" x2="134.6" y2="347.9" stroke="#8a92ae" stroke-width="8.6" stroke-linecap="round"/>
<circle cx="134.6" cy="347.9" r="4.3" fill="url(#gTeB)"/>
<circle cx="133.7" cy="348.3" r="4.5" fill="url(#gTe)"/>
<line x1="146.8" y1="348.3" x2="147.0" y2="347.9" stroke="#8a92ae" stroke-width="8.6" stroke-linecap="round"/>
<circle cx="147.0" cy="347.9" r="4.3" fill="url(#gTeB)"/>
<circle cx="146.8" cy="348.3" r="4.5" fill="url(#gTe)"/>
<line x1="159.9" y1="348.3" x2="159.4" y2="347.9" stroke="#8a92ae" stroke-width="8.6" stroke-linecap="round"/>
<circle cx="159.4" cy="347.9" r="4.3" fill="url(#gTeB)"/>
<circle cx="159.9" cy="348.3" r="4.5" fill="url(#gTe)"/>
<line x1="173.0" y1="348.3" x2="171.7" y2="347.9" stroke="#8a92ae" stroke-width="8.6" stroke-linecap="round"/>
<circle cx="171.7" cy="347.9" r="4.3" fill="url(#gTeB)"/>
<circle cx="173.0" cy="348.3" r="4.5" fill="url(#gTe)"/>
<line x1="186.2" y1="348.3" x2="184.1" y2="347.9" stroke="#8a92ae" stroke-width="8.6" stroke-linecap="round"/>
<circle cx="184.1" cy="347.9" r="4.3" fill="url(#gTeB)"/>
<circle cx="186.2" cy="348.3" r="4.5" fill="url(#gTe)"/>
<line x1="199.3" y1="348.3" x2="196.5" y2="347.9" stroke="#8a92ae" stroke-width="8.6" stroke-linecap="round"/>
<circle cx="196.5" cy="347.9" r="4.3" fill="url(#gTeB)"/>
<circle cx="199.3" cy="348.3" r="4.5" fill="url(#gTe)"/>
<line x1="212.4" y1="348.3" x2="208.9" y2="347.9" stroke="#8a92ae" stroke-width="8.6" stroke-linecap="round"/>
<circle cx="208.9" cy="347.9" r="4.3" fill="url(#gTeB)"/>
<circle cx="212.4" cy="348.3" r="4.5" fill="url(#gTe)"/>
<line x1="225.6" y1="348.3" x2="221.3" y2="347.9" stroke="#8a92ae" stroke-width="8.6" stroke-linecap="round"/>
<circle cx="221.3" cy="347.9" r="4.3" fill="url(#gTeB)"/>
<circle cx="225.6" cy="348.3" r="4.5" fill="url(#gTe)"/>
<line x1="238.7" y1="348.3" x2="233.7" y2="347.9" stroke="#8a92ae" stroke-width="8.6" stroke-linecap="round"/>
<circle cx="233.7" cy="347.9" r="4.3" fill="url(#gTeB)"/>
<circle cx="238.7" cy="348.3" r="4.5" fill="url(#gTe)"/>
<line x1="59.2" y1="355.6" x2="64.3" y2="355.1" stroke="#d2a898" stroke-width="7.9" stroke-linecap="round"/>
<circle cx="59.2" cy="355.6" r="4.15" fill="url(#gMo)"/>
<line x1="72.3" y1="355.6" x2="76.7" y2="355.1" stroke="#d2a898" stroke-width="7.9" stroke-linecap="round"/>
<circle cx="72.3" cy="355.6" r="4.15" fill="url(#gMo)"/>
<line x1="85.5" y1="355.6" x2="89.1" y2="355.1" stroke="#d2a898" stroke-width="7.9" stroke-linecap="round"/>
<circle cx="85.5" cy="355.6" r="4.15" fill="url(#gMo)"/>
<line x1="98.6" y1="355.6" x2="101.5" y2="355.1" stroke="#d2a898" stroke-width="7.9" stroke-linecap="round"/>
<circle cx="98.6" cy="355.6" r="4.15" fill="url(#gMo)"/>
<line x1="111.7" y1="355.6" x2="113.9" y2="355.1" stroke="#d2a898" stroke-width="7.9" stroke-linecap="round"/>
<circle cx="111.7" cy="355.6" r="4.15" fill="url(#gMo)"/>
<line x1="124.9" y1="355.6" x2="126.3" y2="355.1" stroke="#d2a898" stroke-width="7.9" stroke-linecap="round"/>
<circle cx="124.9" cy="355.6" r="4.15" fill="url(#gMo)"/>
<line x1="138.0" y1="355.6" x2="138.7" y2="355.1" stroke="#d2a898" stroke-width="7.9" stroke-linecap="round"/>
<circle cx="138.0" cy="355.6" r="4.15" fill="url(#gMo)"/>
<line x1="151.1" y1="355.6" x2="151.0" y2="355.1" stroke="#d2a898" stroke-width="7.9" stroke-linecap="round"/>
<circle cx="151.1" cy="355.6" r="4.15" fill="url(#gMo)"/>
<line x1="164.2" y1="355.6" x2="163.4" y2="355.1" stroke="#d2a898" stroke-width="7.9" stroke-linecap="round"/>
<circle cx="164.2" cy="355.6" r="4.15" fill="url(#gMo)"/>
<line x1="177.4" y1="355.6" x2="175.8" y2="355.1" stroke="#d2a898" stroke-width="7.9" stroke-linecap="round"/>
<circle cx="177.4" cy="355.6" r="4.15" fill="url(#gMo)"/>
<line x1="190.5" y1="355.6" x2="188.2" y2="355.1" stroke="#d2a898" stroke-width="7.9" stroke-linecap="round"/>
<circle cx="190.5" cy="355.6" r="4.15" fill="url(#gMo)"/>
<line x1="203.6" y1="355.6" x2="200.6" y2="355.1" stroke="#d2a898" stroke-width="7.9" stroke-linecap="round"/>
<circle cx="203.6" cy="355.6" r="4.15" fill="url(#gMo)"/>
<line x1="216.8" y1="355.6" x2="213.0" y2="355.1" stroke="#d2a898" stroke-width="7.9" stroke-linecap="round"/>
<circle cx="216.8" cy="355.6" r="4.15" fill="url(#gMo)"/>
<line x1="229.9" y1="355.6" x2="225.4" y2="355.1" stroke="#d2a898" stroke-width="7.9" stroke-linecap="round"/>
<circle cx="229.9" cy="355.6" r="4.15" fill="url(#gMo)"/>
<line x1="243.0" y1="355.6" x2="237.8" y2="355.1" stroke="#d2a898" stroke-width="7.9" stroke-linecap="round"/>
<circle cx="243.0" cy="355.6" r="4.15" fill="url(#gMo)"/>
<line x1="68.0" y1="363.4" x2="72.6" y2="362.7" stroke="#8a92ae" stroke-width="8.6" stroke-linecap="round"/>
<circle cx="72.6" cy="362.7" r="4.3" fill="url(#gTeB)"/>
<circle cx="68.0" cy="363.4" r="4.5" fill="url(#gTe)"/>
<line x1="81.1" y1="363.4" x2="85.0" y2="362.7" stroke="#8a92ae" stroke-width="8.6" stroke-linecap="round"/>
<circle cx="85.0" cy="362.7" r="4.3" fill="url(#gTeB)"/>
<circle cx="81.1" cy="363.4" r="4.5" fill="url(#gTe)"/>
<line x1="94.3" y1="363.4" x2="97.4" y2="362.7" stroke="#8a92ae" stroke-width="8.6" stroke-linecap="round"/>
<circle cx="97.4" cy="362.7" r="4.3" fill="url(#gTeB)"/>
<circle cx="94.3" cy="363.4" r="4.5" fill="url(#gTe)"/>
<line x1="107.4" y1="363.4" x2="109.8" y2="362.7" stroke="#8a92ae" stroke-width="8.6" stroke-linecap="round"/>
<circle cx="109.8" cy="362.7" r="4.3" fill="url(#gTeB)"/>
<circle cx="107.4" cy="363.4" r="4.5" fill="url(#gTe)"/>
<line x1="120.5" y1="363.4" x2="122.2" y2="362.7" stroke="#8a92ae" stroke-width="8.6" stroke-linecap="round"/>
<circle cx="122.2" cy="362.7" r="4.3" fill="url(#gTeB)"/>
<circle cx="120.5" cy="363.4" r="4.5" fill="url(#gTe)"/>
<line x1="133.7" y1="363.4" x2="134.6" y2="362.7" stroke="#8a92ae" stroke-width="8.6" stroke-linecap="round"/>
<circle cx="134.6" cy="362.7" r="4.3" fill="url(#gTeB)"/>
<circle cx="133.7" cy="363.4" r="4.5" fill="url(#gTe)"/>
<line x1="146.8" y1="363.4" x2="147.0" y2="362.7" stroke="#8a92ae" stroke-width="8.6" stroke-linecap="round"/>
<circle cx="147.0" cy="362.7" r="4.3" fill="url(#gTeB)"/>
<circle cx="146.8" cy="363.4" r="4.5" fill="url(#gTe)"/>
<line x1="159.9" y1="363.4" x2="159.4" y2="362.7" stroke="#8a92ae" stroke-width="8.6" stroke-linecap="round"/>
<circle cx="159.4" cy="362.7" r="4.3" fill="url(#gTeB)"/>
<circle cx="159.9" cy="363.4" r="4.5" fill="url(#gTe)"/>
<line x1="173.0" y1="363.4" x2="171.7" y2="362.7" stroke="#8a92ae" stroke-width="8.6" stroke-linecap="round"/>
<circle cx="171.7" cy="362.7" r="4.3" fill="url(#gTeB)"/>
<circle cx="173.0" cy="363.4" r="4.5" fill="url(#gTe)"/>
<line x1="186.2" y1="363.4" x2="184.1" y2="362.7" stroke="#8a92ae" stroke-width="8.6" stroke-linecap="round"/>
<circle cx="184.1" cy="362.7" r="4.3" fill="url(#gTeB)"/>
<circle cx="186.2" cy="363.4" r="4.5" fill="url(#gTe)"/>
<line x1="199.3" y1="363.4" x2="196.5" y2="362.7" stroke="#8a92ae" stroke-width="8.6" stroke-linecap="round"/>
<circle cx="196.5" cy="362.7" r="4.3" fill="url(#gTeB)"/>
<circle cx="199.3" cy="363.4" r="4.5" fill="url(#gTe)"/>
<line x1="212.4" y1="363.4" x2="208.9" y2="362.7" stroke="#8a92ae" stroke-width="8.6" stroke-linecap="round"/>
<circle cx="208.9" cy="362.7" r="4.3" fill="url(#gTeB)"/>
<circle cx="212.4" cy="363.4" r="4.5" fill="url(#gTe)"/>
<line x1="225.6" y1="363.4" x2="221.3" y2="362.7" stroke="#8a92ae" stroke-width="8.6" stroke-linecap="round"/>
<circle cx="221.3" cy="362.7" r="4.3" fill="url(#gTeB)"/>
<circle cx="225.6" cy="363.4" r="4.5" fill="url(#gTe)"/>
<line x1="238.7" y1="363.4" x2="233.7" y2="362.7" stroke="#8a92ae" stroke-width="8.6" stroke-linecap="round"/>
<circle cx="233.7" cy="362.7" r="4.3" fill="url(#gTeB)"/>
<circle cx="238.7" cy="363.4" r="4.5" fill="url(#gTe)"/>
<rect x="53.5" y="370.6" width="194" height="4.4" fill="url(#gDielTop)"/>
<rect x="53.5" y="375" width="194" height="25.2" fill="url(#gDiel)"/>
<rect x="53.5" y="400.2" width="194" height="28.5" fill="#f6e0cd"/>
<rect x="53.5" y="399.4" width="194" height="1.2" fill="#4c4846"/>
<text x="152.8" y="390.6" font-size="11" text-anchor="middle" fill="#161616" stroke="#161616" stroke-width="0.3" font-weight="normal" >Dielectric</text>
<text x="154.8" y="418.6" font-size="11" text-anchor="middle" fill="#222" stroke="#222" stroke-width="0.3" font-weight="normal" >Gate</text>
<text x="20.7" y="287.3" font-size="10.8" text-anchor="start" fill="#1a1a1a" stroke="#1a1a1a" stroke-width="0.3" font-weight="normal" >m-Te</text>
<text x="17.6" y="347.6" font-size="10.5" text-anchor="start" fill="#1a1a1a" stroke="#1a1a1a" stroke-width="0.3" font-weight="normal" >MoTe<tspan font-size="7.6" dy="2.6">2</tspan></text>
<text x="255.0" y="348.0" font-size="10.3" text-anchor="start" fill="#1a1a1a" stroke="#1a1a1a" stroke-width="0.1" font-weight="normal" >Hole</text>
<text x="255.0" y="360.2" font-size="10.3" text-anchor="start" fill="#1a1a1a" stroke="#1a1a1a" stroke-width="0.1" font-weight="normal" >injection</text>
<path d="M255.3,302.8 C266,303 272,309 270,316 C268.5,322 263,326 258.5,327.8" fill="none" stroke="#dca072" stroke-width="2.1"/>
<path d="M255.5,329 L259.5,323.5 L261.5,330 Z" fill="#dca072"/>
<line x1="344.3" y1="258.5" x2="344.3" y2="416.7" stroke="#7a7a7a" stroke-width="1"/>
<line x1="343.8" y1="416.2" x2="525.6" y2="416.2" stroke="#7a7a7a" stroke-width="1"/>
<line x1="341.3" y1="416.20" x2="344.3" y2="416.20" stroke="#7a7a7a" stroke-width="0.9"/>
<line x1="342.5" y1="401.87" x2="344.3" y2="401.87" stroke="#7a7a7a" stroke-width="0.7"/>
<line x1="342.5" y1="393.49" x2="344.3" y2="393.49" stroke="#7a7a7a" stroke-width="0.7"/>
<line x1="342.5" y1="387.54" x2="344.3" y2="387.54" stroke="#7a7a7a" stroke-width="0.7"/>
<line x1="342.5" y1="382.93" x2="344.3" y2="382.93" stroke="#7a7a7a" stroke-width="0.7"/>
<line x1="342.5" y1="379.16" x2="344.3" y2="379.16" stroke="#7a7a7a" stroke-width="0.7"/>
<line x1="342.5" y1="375.97" x2="344.3" y2="375.97" stroke="#7a7a7a" stroke-width="0.7"/>
<line x1="342.5" y1="373.21" x2="344.3" y2="373.21" stroke="#7a7a7a" stroke-width="0.7"/>
<line x1="342.5" y1="370.78" x2="344.3" y2="370.78" stroke="#7a7a7a" stroke-width="0.7"/>
<line x1="341.3" y1="368.60" x2="344.3" y2="368.60" stroke="#7a7a7a" stroke-width="0.9"/>
<line x1="342.5" y1="354.27" x2="344.3" y2="354.27" stroke="#7a7a7a" stroke-width="0.7"/>
<line x1="342.5" y1="345.89" x2="344.3" y2="345.89" stroke="#7a7a7a" stroke-width="0.7"/>
<line x1="342.5" y1="339.94" x2="344.3" y2="339.94" stroke="#7a7a7a" stroke-width="0.7"/>
<line x1="342.5" y1="335.33" x2="344.3" y2="335.33" stroke="#7a7a7a" stroke-width="0.7"/>
<line x1="342.5" y1="331.56" x2="344.3" y2="331.56" stroke="#7a7a7a" stroke-width="0.7"/>
<line x1="342.5" y1="328.37" x2="344.3" y2="328.37" stroke="#7a7a7a" stroke-width="0.7"/>
<line x1="342.5" y1="325.61" x2="344.3" y2="325.61" stroke="#7a7a7a" stroke-width="0.7"/>
<line x1="342.5" y1="323.18" x2="344.3" y2="323.18" stroke="#7a7a7a" stroke-width="0.7"/>
<line x1="341.3" y1="321.00" x2="344.3" y2="321.00" stroke="#7a7a7a" stroke-width="0.9"/>
<line x1="342.5" y1="306.67" x2="344.3" y2="306.67" stroke="#7a7a7a" stroke-width="0.7"/>
<line x1="342.5" y1="298.29" x2="344.3" y2="298.29" stroke="#7a7a7a" stroke-width="0.7"/>
<line x1="342.5" y1="292.34" x2="344.3" y2="292.34" stroke="#7a7a7a" stroke-width="0.7"/>
<line x1="342.5" y1="287.73" x2="344.3" y2="287.73" stroke="#7a7a7a" stroke-width="0.7"/>
<line x1="342.5" y1="283.96" x2="344.3" y2="283.96" stroke="#7a7a7a" stroke-width="0.7"/>
<line x1="342.5" y1="280.77" x2="344.3" y2="280.77" stroke="#7a7a7a" stroke-width="0.7"/>
<line x1="342.5" y1="278.01" x2="344.3" y2="278.01" stroke="#7a7a7a" stroke-width="0.7"/>
<line x1="342.5" y1="275.58" x2="344.3" y2="275.58" stroke="#7a7a7a" stroke-width="0.7"/>
<line x1="341.3" y1="273.40" x2="344.3" y2="273.40" stroke="#7a7a7a" stroke-width="0.9"/>
<line x1="342.5" y1="259.07" x2="344.3" y2="259.07" stroke="#7a7a7a" stroke-width="0.7"/>
<line x1="344.30" y1="416.2" x2="344.30" y2="419.2" stroke="#7a7a7a" stroke-width="0.9"/>
<line x1="353.38" y1="416.2" x2="353.38" y2="418.0" stroke="#7a7a7a" stroke-width="0.7"/>
<line x1="358.69" y1="416.2" x2="358.69" y2="418.0" stroke="#7a7a7a" stroke-width="0.7"/>
<line x1="362.46" y1="416.2" x2="362.46" y2="418.0" stroke="#7a7a7a" stroke-width="0.7"/>
<line x1="365.39" y1="416.2" x2="365.39" y2="418.0" stroke="#7a7a7a" stroke-width="0.7"/>
<line x1="367.78" y1="416.2" x2="367.78" y2="418.0" stroke="#7a7a7a" stroke-width="0.7"/>
<line x1="369.80" y1="416.2" x2="369.80" y2="418.0" stroke="#7a7a7a" stroke-width="0.7"/>
<line x1="371.55" y1="416.2" x2="371.55" y2="418.0" stroke="#7a7a7a" stroke-width="0.7"/>
<line x1="373.09" y1="416.2" x2="373.09" y2="418.0" stroke="#7a7a7a" stroke-width="0.7"/>
<line x1="374.47" y1="416.2" x2="374.47" y2="419.2" stroke="#7a7a7a" stroke-width="0.9"/>
<line x1="383.55" y1="416.2" x2="383.55" y2="418.0" stroke="#7a7a7a" stroke-width="0.7"/>
<line x1="388.86" y1="416.2" x2="388.86" y2="418.0" stroke="#7a7a7a" stroke-width="0.7"/>
<line x1="392.63" y1="416.2" x2="392.63" y2="418.0" stroke="#7a7a7a" stroke-width="0.7"/>
<line x1="395.56" y1="416.2" x2="395.56" y2="418.0" stroke="#7a7a7a" stroke-width="0.7"/>
<line x1="397.95" y1="416.2" x2="397.95" y2="418.0" stroke="#7a7a7a" stroke-width="0.7"/>
<line x1="399.97" y1="416.2" x2="399.97" y2="418.0" stroke="#7a7a7a" stroke-width="0.7"/>
<line x1="401.72" y1="416.2" x2="401.72" y2="418.0" stroke="#7a7a7a" stroke-width="0.7"/>
<line x1="403.26" y1="416.2" x2="403.26" y2="418.0" stroke="#7a7a7a" stroke-width="0.7"/>
<line x1="404.64" y1="416.2" x2="404.64" y2="419.2" stroke="#7a7a7a" stroke-width="0.9"/>
<line x1="413.72" y1="416.2" x2="413.72" y2="418.0" stroke="#7a7a7a" stroke-width="0.7"/>
<line x1="419.03" y1="416.2" x2="419.03" y2="418.0" stroke="#7a7a7a" stroke-width="0.7"/>
<line x1="422.80" y1="416.2" x2="422.80" y2="418.0" stroke="#7a7a7a" stroke-width="0.7"/>
<line x1="425.73" y1="416.2" x2="425.73" y2="418.0" stroke="#7a7a7a" stroke-width="0.7"/>
<line x1="428.12" y1="416.2" x2="428.12" y2="418.0" stroke="#7a7a7a" stroke-width="0.7"/>
<line x1="430.14" y1="416.2" x2="430.14" y2="418.0" stroke="#7a7a7a" stroke-width="0.7"/>
<line x1="431.89" y1="416.2" x2="431.89" y2="418.0" stroke="#7a7a7a" stroke-width="0.7"/>
<line x1="433.43" y1="416.2" x2="433.43" y2="418.0" stroke="#7a7a7a" stroke-width="0.7"/>
<line x1="434.81" y1="416.2" x2="434.81" y2="419.2" stroke="#7a7a7a" stroke-width="0.9"/>
<line x1="443.89" y1="416.2" x2="443.89" y2="418.0" stroke="#7a7a7a" stroke-width="0.7"/>
<line x1="449.20" y1="416.2" x2="449.20" y2="418.0" stroke="#7a7a7a" stroke-width="0.7"/>
<line x1="452.97" y1="416.2" x2="452.97" y2="418.0" stroke="#7a7a7a" stroke-width="0.7"/>
<line x1="455.90" y1="416.2" x2="455.90" y2="418.0" stroke="#7a7a7a" stroke-width="0.7"/>
<line x1="458.29" y1="416.2" x2="458.29" y2="418.0" stroke="#7a7a7a" stroke-width="0.7"/>
<line x1="460.31" y1="416.2" x2="460.31" y2="418.0" stroke="#7a7a7a" stroke-width="0.7"/>
<line x1="462.06" y1="416.2" x2="462.06" y2="418.0" stroke="#7a7a7a" stroke-width="0.7"/>
<line x1="463.60" y1="416.2" x2="463.60" y2="418.0" stroke="#7a7a7a" stroke-width="0.7"/>
<line x1="464.98" y1="416.2" x2="464.98" y2="419.2" stroke="#7a7a7a" stroke-width="0.9"/>
<line x1="474.06" y1="416.2" x2="474.06" y2="418.0" stroke="#7a7a7a" stroke-width="0.7"/>
<line x1="479.37" y1="416.2" x2="479.37" y2="418.0" stroke="#7a7a7a" stroke-width="0.7"/>
<line x1="483.14" y1="416.2" x2="483.14" y2="418.0" stroke="#7a7a7a" stroke-width="0.7"/>
<line x1="486.07" y1="416.2" x2="486.07" y2="418.0" stroke="#7a7a7a" stroke-width="0.7"/>
<line x1="488.46" y1="416.2" x2="488.46" y2="418.0" stroke="#7a7a7a" stroke-width="0.7"/>
<line x1="490.48" y1="416.2" x2="490.48" y2="418.0" stroke="#7a7a7a" stroke-width="0.7"/>
<line x1="492.23" y1="416.2" x2="492.23" y2="418.0" stroke="#7a7a7a" stroke-width="0.7"/>
<line x1="493.77" y1="416.2" x2="493.77" y2="418.0" stroke="#7a7a7a" stroke-width="0.7"/>
<line x1="495.15" y1="416.2" x2="495.15" y2="419.2" stroke="#7a7a7a" stroke-width="0.9"/>
<line x1="504.23" y1="416.2" x2="504.23" y2="418.0" stroke="#7a7a7a" stroke-width="0.7"/>
<line x1="509.54" y1="416.2" x2="509.54" y2="418.0" stroke="#7a7a7a" stroke-width="0.7"/>
<line x1="513.31" y1="416.2" x2="513.31" y2="418.0" stroke="#7a7a7a" stroke-width="0.7"/>
<line x1="516.24" y1="416.2" x2="516.24" y2="418.0" stroke="#7a7a7a" stroke-width="0.7"/>
<line x1="518.63" y1="416.2" x2="518.63" y2="418.0" stroke="#7a7a7a" stroke-width="0.7"/>
<line x1="520.65" y1="416.2" x2="520.65" y2="418.0" stroke="#7a7a7a" stroke-width="0.7"/>
<line x1="522.40" y1="416.2" x2="522.40" y2="418.0" stroke="#7a7a7a" stroke-width="0.7"/>
<line x1="523.94" y1="416.2" x2="523.94" y2="418.0" stroke="#7a7a7a" stroke-width="0.7"/>
<line x1="525.32" y1="416.2" x2="525.32" y2="419.2" stroke="#7a7a7a" stroke-width="0.9"/>
<text x="339.8" y="419.9" font-size="12.3" text-anchor="end" fill="#1a1a1a" stroke="#1a1a1a" stroke-width="0.3" font-weight="normal" >0.1</text>
<text x="339.8" y="372.3" font-size="12.3" text-anchor="end" fill="#1a1a1a" stroke="#1a1a1a" stroke-width="0.3" font-weight="normal" >1</text>
<text x="339.8" y="324.7" font-size="12.3" text-anchor="end" fill="#1a1a1a" stroke="#1a1a1a" stroke-width="0.3" font-weight="normal" >10</text>
<text x="339.8" y="277.1" font-size="12.3" text-anchor="end" fill="#1a1a1a" stroke="#1a1a1a" stroke-width="0.3" font-weight="normal" >100</text>
<text x="345.5" y="432.7" font-size="11.8" text-anchor="middle" fill="#1a1a1a" stroke="#1a1a1a" stroke-width="0.3" font-weight="normal" >10<tspan font-size="8.4" dy="-5.2">2</tspan></text>
<text x="405.8" y="432.7" font-size="11.8" text-anchor="middle" fill="#1a1a1a" stroke="#1a1a1a" stroke-width="0.3" font-weight="normal" >10<tspan font-size="8.4" dy="-5.2">4</tspan></text>
<text x="466.2" y="432.7" font-size="11.8" text-anchor="middle" fill="#1a1a1a" stroke="#1a1a1a" stroke-width="0.3" font-weight="normal" >10<tspan font-size="8.4" dy="-5.2">6</tspan></text>
<text x="526.5" y="432.7" font-size="11.8" text-anchor="middle" fill="#1a1a1a" stroke="#1a1a1a" stroke-width="0.3" font-weight="normal" >10<tspan font-size="8.4" dy="-5.2">8</tspan></text>
<text x="434.5" y="450.6" font-size="12.5" text-anchor="middle" fill="#1a1a1a" stroke="#1a1a1a" stroke-width="0.3" font-weight="normal" >On/Off Ratio</text>
<text transform="translate(314.4,337.7) rotate(-90)" font-size="12.5" text-anchor="middle" fill="#1a1a1a">Current Density (μA μm<tspan font-size="8" dy="-4.6">-1</tspan><tspan dy="4.6">)</tspan></text>
<polygon points="439.90,274.70 433.00,278.68 433.00,270.72" fill="none" stroke="#5aa2cf" stroke-width="1.4"/>
<rect x="460.7" y="282.7" width="7.0" height="7.0" fill="#5aa2cf"/>
<rect x="491.2" y="290.8" width="7.0" height="7.0" fill="#5aa2cf"/>
<polygon points="497.20,261.50 498.98,265.64 503.48,266.06 500.09,269.04 501.08,273.44 497.20,271.14 493.32,273.44 494.31,269.04 490.92,266.06 495.42,265.64" fill="#e8343c"/>
<rect x="377.4" y="301.3" width="6.0" height="6.0" fill="none" stroke="#5aa2cf" stroke-width="1.4"/>
<polygon points="437.80,321.10 441.78,328.00 433.82,328.00" fill="none" stroke="#5aa2cf" stroke-width="1.4"/>
<polygon points="509.30,326.60 516.80,322.27 516.80,330.93" fill="#5aa2cf"/>
<circle cx="484" cy="329.4" r="3.9" fill="#5aa2cf"/>
<polygon points="445.60,341.60 449.50,344.43 448.01,349.02 443.19,349.02 441.70,344.43" fill="none" stroke="#5aa2cf" stroke-width="1.4"/>
<polygon points="390.70,384.10 395.00,388.40 390.70,392.70 386.40,388.40" fill="none" stroke="#5aa2cf" stroke-width="1.4"/>
<circle cx="400.3" cy="387.4" r="3.4" fill="none" stroke="#5aa2cf" stroke-width="1.4"/>
<polygon points="420.60,393.50 427.50,389.52 427.50,397.48" fill="none" stroke="#5aa2cf" stroke-width="1.4"/>
<polygon points="474.30,397.90 477.76,399.90 477.76,403.90 474.30,405.90 470.84,403.90 470.84,399.90" fill="none" stroke="#5aa2cf" stroke-width="1.4"/>
<text x="386.0" y="277.2" font-size="8.8" text-anchor="start" fill="#1a1a1a" stroke="#1a1a1a" stroke-width="0.1" font-weight="normal" >NO-doped</text>
<text x="510.0" y="270.2" font-size="10.2" text-anchor="start" fill="#e8343c" stroke="#e8343c" stroke-width="0.1" font-weight="bold" >This</text>
<text x="510.0" y="283.0" font-size="10.2" text-anchor="start" fill="#e8343c" stroke="#e8343c" stroke-width="0.1" font-weight="bold" >Work</text>
<text x="360.6" y="293.6" font-size="8.8" text-anchor="start" fill="#1a1a1a" stroke="#1a1a1a" stroke-width="0.1" font-weight="normal" >Pd/Ti/Au</text>
<text x="425.6" y="299.3" font-size="8.8" text-anchor="start" fill="#1a1a1a" stroke="#1a1a1a" stroke-width="0.1" font-weight="normal" >transferred TiS<tspan font-size="6" dy="2.2">2</tspan></text>
<text x="386.5" y="316.3" font-size="8.8" text-anchor="start" fill="#1a1a1a" stroke="#1a1a1a" stroke-width="0.1" font-weight="normal" >1T' MoTe<tspan font-size="6" dy="2.2">2</tspan><tspan dy="-2.2">(transferred)/Au</tspan></text>
<text x="511.0" y="316.4" font-size="8.8" text-anchor="start" fill="#1a1a1a" stroke="#1a1a1a" stroke-width="0.1" font-weight="normal" >Ti</text>
<text x="462.1" y="344.7" font-size="8.8" text-anchor="start" fill="#1a1a1a" stroke="#1a1a1a" stroke-width="0.1" font-weight="normal" >Contact gate</text>
<text x="413.7" y="360.6" font-size="8.8" text-anchor="start" fill="#1a1a1a" stroke="#1a1a1a" stroke-width="0.1" font-weight="normal" >1T' MoTe<tspan font-size="6" dy="2.2">2</tspan><tspan dy="-2.2"> (edge)</tspan></text>
<text x="365.8" y="377.8" font-size="8.8" text-anchor="start" fill="#1a1a1a" stroke="#1a1a1a" stroke-width="0.1" font-weight="normal" >Pd/Au (Nb-doped)</text>
<text x="431.0" y="390.8" font-size="8.8" text-anchor="start" fill="#1a1a1a" stroke="#1a1a1a" stroke-width="0.1" font-weight="normal" >1T' MoTe<tspan font-size="6" dy="2.2">2</tspan><tspan dy="-2.2"> (edge)</tspan></text>
<text x="346.7" y="410.0" font-size="8.8" text-anchor="start" fill="#1a1a1a" stroke="#1a1a1a" stroke-width="0.1" font-weight="normal" >1T' MoTe<tspan font-size="6" dy="2.2">2</tspan><tspan dy="-2.2">/Ti/Au (edge)</tspan></text>
<text x="449.8" y="413.6" font-size="8.8" text-anchor="start" fill="#1a1a1a" stroke="#1a1a1a" stroke-width="0.1" font-weight="normal" >1T' MoTe<tspan font-size="6" dy="2.2">2</tspan><tspan dy="-2.2"> (edge)</tspan></text>
<line x1="607.0" y1="258.7" x2="607.0" y2="418.4" stroke="#7a7a7a" stroke-width="1"/>
<line x1="606.5" y1="417.9" x2="788" y2="417.9" stroke="#7a7a7a" stroke-width="1"/>
<line x1="604.0" y1="277.20" x2="607.0" y2="277.20" stroke="#7a7a7a" stroke-width="0.9"/>
<line x1="605.2" y1="264.43" x2="607.0" y2="264.43" stroke="#7a7a7a" stroke-width="0.7"/>
<line x1="604.0" y1="319.63" x2="607.0" y2="319.63" stroke="#7a7a7a" stroke-width="0.9"/>
<line x1="605.2" y1="306.86" x2="607.0" y2="306.86" stroke="#7a7a7a" stroke-width="0.7"/>
<line x1="605.2" y1="299.39" x2="607.0" y2="299.39" stroke="#7a7a7a" stroke-width="0.7"/>
<line x1="605.2" y1="294.08" x2="607.0" y2="294.08" stroke="#7a7a7a" stroke-width="0.7"/>
<line x1="605.2" y1="289.97" x2="607.0" y2="289.97" stroke="#7a7a7a" stroke-width="0.7"/>
<line x1="605.2" y1="286.61" x2="607.0" y2="286.61" stroke="#7a7a7a" stroke-width="0.7"/>
<line x1="605.2" y1="283.77" x2="607.0" y2="283.77" stroke="#7a7a7a" stroke-width="0.7"/>
<line x1="605.2" y1="281.31" x2="607.0" y2="281.31" stroke="#7a7a7a" stroke-width="0.7"/>
<line x1="605.2" y1="279.14" x2="607.0" y2="279.14" stroke="#7a7a7a" stroke-width="0.7"/>
<line x1="604.0" y1="362.06" x2="607.0" y2="362.06" stroke="#7a7a7a" stroke-width="0.9"/>
<line x1="605.2" y1="349.29" x2="607.0" y2="349.29" stroke="#7a7a7a" stroke-width="0.7"/>
<line x1="605.2" y1="341.82" x2="607.0" y2="341.82" stroke="#7a7a7a" stroke-width="0.7"/>
<line x1="605.2" y1="336.51" x2="607.0" y2="336.51" stroke="#7a7a7a" stroke-width="0.7"/>
<line x1="605.2" y1="332.40" x2="607.0" y2="332.40" stroke="#7a7a7a" stroke-width="0.7"/>
<line x1="605.2" y1="329.04" x2="607.0" y2="329.04" stroke="#7a7a7a" stroke-width="0.7"/>
<line x1="605.2" y1="326.20" x2="607.0" y2="326.20" stroke="#7a7a7a" stroke-width="0.7"/>
<line x1="605.2" y1="323.74" x2="607.0" y2="323.74" stroke="#7a7a7a" stroke-width="0.7"/>
<line x1="605.2" y1="321.57" x2="607.0" y2="321.57" stroke="#7a7a7a" stroke-width="0.7"/>
<line x1="604.0" y1="404.49" x2="607.0" y2="404.49" stroke="#7a7a7a" stroke-width="0.9"/>
<line x1="605.2" y1="391.72" x2="607.0" y2="391.72" stroke="#7a7a7a" stroke-width="0.7"/>
<line x1="605.2" y1="384.25" x2="607.0" y2="384.25" stroke="#7a7a7a" stroke-width="0.7"/>
<line x1="605.2" y1="378.94" x2="607.0" y2="378.94" stroke="#7a7a7a" stroke-width="0.7"/>
<line x1="605.2" y1="374.83" x2="607.0" y2="374.83" stroke="#7a7a7a" stroke-width="0.7"/>
<line x1="605.2" y1="371.47" x2="607.0" y2="371.47" stroke="#7a7a7a" stroke-width="0.7"/>
<line x1="605.2" y1="368.63" x2="607.0" y2="368.63" stroke="#7a7a7a" stroke-width="0.7"/>
<line x1="605.2" y1="366.17" x2="607.0" y2="366.17" stroke="#7a7a7a" stroke-width="0.7"/>
<line x1="605.2" y1="364.00" x2="607.0" y2="364.00" stroke="#7a7a7a" stroke-width="0.7"/>
<line x1="605.2" y1="417.26" x2="607.0" y2="417.26" stroke="#7a7a7a" stroke-width="0.7"/>
<line x1="605.2" y1="413.90" x2="607.0" y2="413.90" stroke="#7a7a7a" stroke-width="0.7"/>
<line x1="605.2" y1="411.06" x2="607.0" y2="411.06" stroke="#7a7a7a" stroke-width="0.7"/>
<line x1="605.2" y1="408.60" x2="607.0" y2="408.60" stroke="#7a7a7a" stroke-width="0.7"/>
<line x1="605.2" y1="406.43" x2="607.0" y2="406.43" stroke="#7a7a7a" stroke-width="0.7"/>
<line x1="611.12" y1="417.9" x2="611.12" y2="419.7" stroke="#7a7a7a" stroke-width="0.7"/>
<line x1="614.89" y1="417.9" x2="614.89" y2="419.7" stroke="#7a7a7a" stroke-width="0.7"/>
<line x1="617.97" y1="417.9" x2="617.97" y2="419.7" stroke="#7a7a7a" stroke-width="0.7"/>
<line x1="620.57" y1="417.9" x2="620.57" y2="419.7" stroke="#7a7a7a" stroke-width="0.7"/>
<line x1="622.83" y1="417.9" x2="622.83" y2="419.7" stroke="#7a7a7a" stroke-width="0.7"/>
<line x1="624.82" y1="417.9" x2="624.82" y2="419.7" stroke="#7a7a7a" stroke-width="0.7"/>
<line x1="626.60" y1="417.9" x2="626.60" y2="420.9" stroke="#7a7a7a" stroke-width="0.9"/>
<line x1="638.31" y1="417.9" x2="638.31" y2="419.7" stroke="#7a7a7a" stroke-width="0.7"/>
<line x1="645.16" y1="417.9" x2="645.16" y2="419.7" stroke="#7a7a7a" stroke-width="0.7"/>
<line x1="650.02" y1="417.9" x2="650.02" y2="419.7" stroke="#7a7a7a" stroke-width="0.7"/>
<line x1="653.79" y1="417.9" x2="653.79" y2="419.7" stroke="#7a7a7a" stroke-width="0.7"/>
<line x1="656.87" y1="417.9" x2="656.87" y2="419.7" stroke="#7a7a7a" stroke-width="0.7"/>
<line x1="659.47" y1="417.9" x2="659.47" y2="419.7" stroke="#7a7a7a" stroke-width="0.7"/>
<line x1="661.73" y1="417.9" x2="661.73" y2="419.7" stroke="#7a7a7a" stroke-width="0.7"/>
<line x1="663.72" y1="417.9" x2="663.72" y2="419.7" stroke="#7a7a7a" stroke-width="0.7"/>
<line x1="665.50" y1="417.9" x2="665.50" y2="420.9" stroke="#7a7a7a" stroke-width="0.9"/>
<line x1="677.21" y1="417.9" x2="677.21" y2="419.7" stroke="#7a7a7a" stroke-width="0.7"/>
<line x1="684.06" y1="417.9" x2="684.06" y2="419.7" stroke="#7a7a7a" stroke-width="0.7"/>
<line x1="688.92" y1="417.9" x2="688.92" y2="419.7" stroke="#7a7a7a" stroke-width="0.7"/>
<line x1="692.69" y1="417.9" x2="692.69" y2="419.7" stroke="#7a7a7a" stroke-width="0.7"/>
<line x1="695.77" y1="417.9" x2="695.77" y2="419.7" stroke="#7a7a7a" stroke-width="0.7"/>
<line x1="698.37" y1="417.9" x2="698.37" y2="419.7" stroke="#7a7a7a" stroke-width="0.7"/>
<line x1="700.63" y1="417.9" x2="700.63" y2="419.7" stroke="#7a7a7a" stroke-width="0.7"/>
<line x1="702.62" y1="417.9" x2="702.62" y2="419.7" stroke="#7a7a7a" stroke-width="0.7"/>
<line x1="704.40" y1="417.9" x2="704.40" y2="420.9" stroke="#7a7a7a" stroke-width="0.9"/>
<line x1="716.11" y1="417.9" x2="716.11" y2="419.7" stroke="#7a7a7a" stroke-width="0.7"/>
<line x1="722.96" y1="417.9" x2="722.96" y2="419.7" stroke="#7a7a7a" stroke-width="0.7"/>
<line x1="727.82" y1="417.9" x2="727.82" y2="419.7" stroke="#7a7a7a" stroke-width="0.7"/>
<line x1="731.59" y1="417.9" x2="731.59" y2="419.7" stroke="#7a7a7a" stroke-width="0.7"/>
<line x1="734.67" y1="417.9" x2="734.67" y2="419.7" stroke="#7a7a7a" stroke-width="0.7"/>
<line x1="737.27" y1="417.9" x2="737.27" y2="419.7" stroke="#7a7a7a" stroke-width="0.7"/>
<line x1="739.53" y1="417.9" x2="739.53" y2="419.7" stroke="#7a7a7a" stroke-width="0.7"/>
<line x1="741.52" y1="417.9" x2="741.52" y2="419.7" stroke="#7a7a7a" stroke-width="0.7"/>
<line x1="743.30" y1="417.9" x2="743.30" y2="420.9" stroke="#7a7a7a" stroke-width="0.9"/>
<line x1="755.01" y1="417.9" x2="755.01" y2="419.7" stroke="#7a7a7a" stroke-width="0.7"/>
<line x1="761.86" y1="417.9" x2="761.86" y2="419.7" stroke="#7a7a7a" stroke-width="0.7"/>
<line x1="766.72" y1="417.9" x2="766.72" y2="419.7" stroke="#7a7a7a" stroke-width="0.7"/>
<line x1="770.49" y1="417.9" x2="770.49" y2="419.7" stroke="#7a7a7a" stroke-width="0.7"/>
<line x1="773.57" y1="417.9" x2="773.57" y2="419.7" stroke="#7a7a7a" stroke-width="0.7"/>
<line x1="776.17" y1="417.9" x2="776.17" y2="419.7" stroke="#7a7a7a" stroke-width="0.7"/>
<line x1="778.43" y1="417.9" x2="778.43" y2="419.7" stroke="#7a7a7a" stroke-width="0.7"/>
<line x1="780.42" y1="417.9" x2="780.42" y2="419.7" stroke="#7a7a7a" stroke-width="0.7"/>
<line x1="782.20" y1="417.9" x2="782.20" y2="420.9" stroke="#7a7a7a" stroke-width="0.9"/>
<text x="602.0" y="280.6" font-size="12.2" text-anchor="end" fill="#1a1a1a" stroke="#1a1a1a" stroke-width="0.3" font-weight="normal" >1000</text>
<text x="602.0" y="323.0" font-size="12.2" text-anchor="end" fill="#1a1a1a" stroke="#1a1a1a" stroke-width="0.3" font-weight="normal" >100</text>
<text x="602.0" y="365.5" font-size="12.2" text-anchor="end" fill="#1a1a1a" stroke="#1a1a1a" stroke-width="0.3" font-weight="normal" >10</text>
<text x="602.0" y="407.9" font-size="12.2" text-anchor="end" fill="#1a1a1a" stroke="#1a1a1a" stroke-width="0.3" font-weight="normal" >1</text>
<text x="626.6" y="432.2" font-size="12.1" text-anchor="middle" fill="#1a1a1a" stroke="#1a1a1a" stroke-width="0.3" font-weight="normal" >0.1</text>
<text x="665.5" y="432.2" font-size="12.1" text-anchor="middle" fill="#1a1a1a" stroke="#1a1a1a" stroke-width="0.3" font-weight="normal" >1</text>
<text x="704.4" y="432.2" font-size="12.1" text-anchor="middle" fill="#1a1a1a" stroke="#1a1a1a" stroke-width="0.3" font-weight="normal" >10</text>
<text x="743.3" y="432.2" font-size="12.1" text-anchor="middle" fill="#1a1a1a" stroke="#1a1a1a" stroke-width="0.3" font-weight="normal" >100</text>
<text x="782.2" y="432.2" font-size="12.1" text-anchor="middle" fill="#1a1a1a" stroke="#1a1a1a" stroke-width="0.3" font-weight="normal" >1000</text>
<text x="697.9" y="452.7" font-size="12.5" text-anchor="middle" fill="#1a1a1a" stroke="#1a1a1a" stroke-width="0.3" font-weight="normal" >Contact Resistance (kΩ μm)</text>
<text transform="translate(571.6,339.0) rotate(-90)" font-size="12.5" text-anchor="middle" fill="#1a1a1a">Current Density (μA μm<tspan font-size="8" dy="-4.6">-1</tspan><tspan dy="4.6">)</tspan></text>
<rect x="609.3" y="259.7" width="6.6" height="6.6" fill="#efc670"/>
<circle cx="654" cy="268.0" r="3.5" fill="#efc670"/>
<circle cx="654" cy="270.8" r="3.5" fill="#efc670"/>
<circle cx="654" cy="273.6" r="3.5" fill="#efc670"/>
<polygon points="672.80,308.60 674.64,312.87 679.27,313.30 675.77,316.37 676.80,320.90 672.80,318.53 668.80,320.90 669.83,316.37 666.33,313.30 670.96,312.87" fill="#e8343c"/>
<polygon points="686.20,327.60 690.29,330.57 688.73,335.38 683.67,335.38 682.11,330.57" fill="#efc670"/>
<polygon points="685.50,340.80 689.80,345.10 685.50,349.40 681.20,345.10" fill="none" stroke="#efc670" stroke-width="1.4"/>
<polygon points="668.50,361.80 672.48,368.70 664.52,368.70" fill="none" stroke="#5aa2cf" stroke-width="1.4"/>
<polygon points="756.60,362.80 761.40,367.60 756.60,372.40 751.80,367.60" fill="#efc670"/>
<circle cx="781.2" cy="369.8" r="3.9" fill="#5a9ccb"/>
<circle cx="756.6" cy="380.8" r="3.4" fill="none" stroke="#efc670" stroke-width="1.4"/>
<polygon points="709.60,379.90 713.50,382.73 712.01,387.32 707.19,387.32 705.70,382.73" fill="none" stroke="#5aa2cf" stroke-width="1.4"/>
<polygon points="722.60,404.80 726.69,407.77 725.13,412.58 720.07,412.58 718.51,407.77" fill="#efc670"/>
<text x="608.3" y="253.8" font-size="9.0" text-anchor="start" fill="#1a1a1a" stroke="#1a1a1a" stroke-width="0.1" font-weight="normal" >vdW epitaxial SnS<tspan font-size="6" dy="2.2">2</tspan><tspan dy="-2.2"> 20 nm</tspan></text>
<text x="613.6" y="288.9" font-size="9.0" text-anchor="start" fill="#1a1a1a" stroke="#1a1a1a" stroke-width="0.1" font-weight="normal" >VSe<tspan font-size="6" dy="2.2">2</tspan><tspan dy="-2.2"> 20 nm, 76 nm</tspan></text>
<text x="613.6" y="302.1" font-size="9.0" text-anchor="start" fill="#1a1a1a" stroke="#1a1a1a" stroke-width="0.1" font-weight="normal" >(<tspan font-style="italic">R</tspan><tspan font-size="6" dy="2.2">on</tspan><tspan dy="-2.2">)</tspan></text>
<text x="681.9" y="311.7" font-size="10.6" text-anchor="start" fill="#e8343c" stroke="#e8343c" stroke-width="0.3" font-weight="bold" >This work 130 nm</text>
<text x="608.9" y="339.4" font-size="9.0" text-anchor="start" fill="#1a1a1a" stroke="#1a1a1a" stroke-width="0.1" font-weight="normal" >dry transferred Pt</text>
<text x="689.4" y="359.1" font-size="9.0" text-anchor="start" fill="#1a1a1a" stroke="#1a1a1a" stroke-width="0.1" font-weight="normal" >van der Waals Pt</text>
<text x="608.5" y="377.0" font-size="9.0" text-anchor="start" fill="#1a1a1a" stroke="#1a1a1a" stroke-width="0.1" font-weight="normal" >1T' MoTe<tspan font-size="6" dy="2.2">2</tspan><tspan dy="-2.2"> (transferred)/Au</tspan></text>
<text x="730.6" y="383.6" font-size="9.0" text-anchor="start" fill="#1a1a1a" stroke="#1a1a1a" stroke-width="0.1" font-weight="normal" >In/Pd</text>
<text x="766.8" y="384.2" font-size="9.0" text-anchor="start" fill="#1a1a1a" stroke="#1a1a1a" stroke-width="0.1" font-weight="normal" >Contact</text>
<text x="766.8" y="394.2" font-size="9.0" text-anchor="start" fill="#1a1a1a" stroke="#1a1a1a" stroke-width="0.1" font-weight="normal" >gate</text>
<text x="670.2" y="396.8" font-size="9.0" text-anchor="start" fill="#1a1a1a" stroke="#1a1a1a" stroke-width="0.1" font-weight="normal" >1T' MoTe<tspan font-size="6" dy="2.2">2</tspan><tspan dy="-2.2"> (edge)</tspan></text>
<text x="731.7" y="413.4" font-size="9.0" text-anchor="start" fill="#1a1a1a" stroke="#1a1a1a" stroke-width="0.1" font-weight="normal" >MoO<tspan font-size="6" dy="2.2">3</tspan><tspan dy="-2.2">/Pd</tspan></text>
</svg>
</body></html>
